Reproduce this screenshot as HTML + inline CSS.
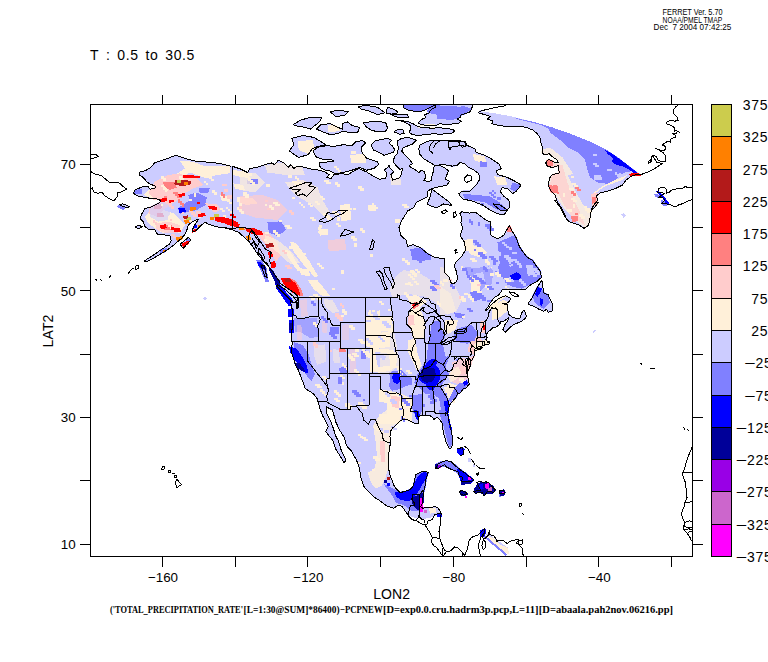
<!DOCTYPE html>
<html><head><meta charset="utf-8"><title>FERRET plot</title>
<style>html,body{margin:0;padding:0;background:#fff;overflow:hidden}svg{display:block}</style></head>
<body>
<svg width="768" height="662" viewBox="0 0 768 662">
<rect width="768" height="662" fill="#fff"/>
<defs><clipPath id="c"><rect x="91" y="105" width="601" height="451"/></clipPath></defs>
<g clip-path="url(#c)" shape-rendering="crispEdges">
<g stroke="none">
<polygon points="231.3,166.3 223.3,164.2 213.3,162.5 201.7,161.7 193.3,160.8 185.0,158.3 175.8,155.3 170.0,157.5 163.3,160.0 155.0,162.5 150.8,167.5 145.0,170.8 140.0,171.7 139.2,175.0 143.3,177.5 146.7,181.7 150.0,184.2 155.0,185.8 155.0,188.0 150.0,189.2 148.3,186.7 141.7,187.0 135.0,190.0 133.3,193.0 136.7,195.8 145.0,197.5 153.3,198.7 159.2,199.2 160.8,201.7 156.7,204.2 150.0,207.5 145.0,208.3 141.7,214.2 140.0,218.3 143.3,221.7 145.0,226.7 148.3,229.2 155.0,230.0 157.5,234.2 165.0,235.0 170.0,235.8 171.3,240.8 169.2,244.2 163.3,248.3 158.3,251.7 152.5,255.8 146.7,259.2 144.2,261.3 147.5,261.3 151.7,259.2 158.3,255.3 165.8,250.8 171.7,246.7 176.7,242.5 181.7,238.3 185.0,234.2 187.5,228.3 188.3,225.0 192.5,221.7 195.8,220.0 198.3,219.7 195.8,223.3 193.3,227.5 192.0,231.7 194.2,232.0 198.3,228.3 201.7,225.0 205.0,222.0 208.3,224.2 213.3,225.8 218.3,227.0 225.0,228.0 231.3,228.7 224.4,227.5 232.2,229.8 238.4,232.2 243.9,236.9 248.6,241.6 252.5,246.2 255.9,251.7 259.5,256.4 262.7,260.3 266.6,264.2 269.7,268.1 272.8,272.0 276.7,277.5 280.6,283.8 285.3,286.9 290.0,290.0 294.7,293.1 297.8,296.2 298.6,300.2 297.5,304.1 296.2,307.2 297.2,297.9 298.3,302.4 298.7,307.4 296.9,308.7 297.6,303.6 295.8,302.7 290.3,301.1 292.5,310.6 292.9,315.0 292.5,325.8 291.1,336.6 292.2,342.9 291.4,351.8 293.6,358.7 296.5,367.0 298.3,370.1 300.5,375.8 302.7,381.5 305.2,388.5 310.3,391.7 313.2,393.6 317.2,398.6 318.0,401.8 319.8,408.1 322.3,415.1 325.6,421.4 328.5,426.5 325.6,431.6 329.2,436.0 332.9,440.4 335.8,449.3 338.3,453.1 342.7,460.1 344.1,462.6 346.0,460.1 342.7,453.7 340.9,449.3 338.7,441.7 335.4,435.4 333.6,429.0 330.7,421.4 327.1,414.5 326.3,406.9 332.5,410.0 335.8,422.1 340.1,430.9 344.5,437.9 346.3,445.5 351.1,450.6 356.5,460.1 359.4,468.3 360.9,477.8 364.1,486.7 369.2,492.4 374.7,497.4 380.5,501.2 387.4,506.3 393.6,508.2 398.3,505.0 402.0,506.3 408.5,515.8 414.7,517.7 423.8,519.0 432.9,517.1 441.2,513.3 441.2,513.3 438.3,508.2 434.7,506.6 431.0,507.6 425.6,507.6 423.0,508.2 420.5,506.9 420.5,506.9 422.7,503.1 423.0,496.8 423.8,491.1 425.6,484.1 426.0,479.1 428.1,472.7 425.6,471.5 422.0,471.5 415.4,474.6 414.7,481.0 413.2,486.0 410.0,489.8 405.6,491.1 400.1,492.7 396.5,489.2 394.0,485.4 390.3,475.9 388.5,468.3 388.1,462.6 388.5,455.6 389.6,447.4 390.5,443.3 390.0,436.6 390.3,431.6 392.9,427.8 397.2,424.0 399.4,421.4 402.5,419.5 405.6,419.2 409.2,420.5 411.8,422.1 414.7,423.3 418.7,424.0 418.3,418.9 418.0,416.4 422.3,415.4 425.6,415.7 429.2,415.1 432.5,417.3 433.6,419.5 437.2,417.3 439.8,419.5 442.7,424.0 443.0,430.3 443.4,433.5 445.2,438.5 446.3,443.0 448.9,448.0 451.4,448.0 452.5,444.2 452.7,437.9 451.0,430.3 450.7,427.1 449.2,422.1 447.9,415.1 447.6,413.2 448.5,408.1 449.6,405.0 452.9,400.9 455.8,397.4 458.1,393.3 460.5,392.9 463.0,388.8 465.4,388.5 469.2,384.4 468.1,378.4 467.4,373.9 466.3,373.3 466.3,367.3 465.9,363.8 465.6,359.4 467.4,358.1 466.7,363.8 467.8,367.6 467.6,372.4 469.6,367.6 470.9,364.1 470.7,361.9 469.2,358.1 471.4,361.0 474.3,355.6 474.7,351.5 474.7,349.9 475.8,350.5 480.1,349.2 482.3,347.7 479.8,348.0 475.8,348.6 478.7,346.4 481.9,346.1 483.8,345.4 484.9,344.8 486.7,344.5 489.2,343.9 489.4,342.0 488.5,341.3 489.2,342.9 487.4,342.9 486.7,340.1 485.6,339.4 487.0,337.5 486.3,336.1 487.0,333.4 488.5,331.2 491.0,329.6 493.6,327.1 495.8,327.1 498.7,325.2 500.1,323.9 500.1,321.7 503.8,321.1 507.4,318.8 508.5,317.9 507.8,320.7 504.5,325.2 503.0,329.6 505.2,332.5 509.2,328.3 512.8,325.2 518.3,322.6 521.9,321.1 525.6,318.2 526.3,315.7 524.1,310.0 521.9,312.5 520.1,318.2 516.5,318.5 512.8,317.3 510.3,315.7 508.8,314.4 507.8,310.0 507.4,304.9 504.5,304.3 502.3,303.3 507.4,303.0 509.9,300.5 510.3,298.3 505.6,295.7 500.8,297.3 496.5,300.2 491.0,304.9 487.4,310.0 484.9,311.2 488.5,306.2 490.3,302.7 494.3,297.3 499.0,294.8 502.3,289.7 511.0,289.1 518.3,289.4 525.6,289.1 531.0,284.6 536.1,282.1 541.2,277.7 540.8,272.0 536.1,265.6 532.8,260.6 527.4,257.4 523.8,253.0 519.4,246.6 516.5,238.4 512.8,232.1 509.2,225.7 506.3,230.8 503.8,235.2 498.3,238.4 495.0,237.8 491.0,235.2 490.3,230.2 490.7,221.9 485.6,220.0 481.9,216.9 475.8,212.4 469.2,213.1 461.9,211.8 459.8,213.1 461.9,218.1 460.9,222.6 462.7,227.6 460.1,235.9 464.5,242.2 465.6,249.8 461.9,256.1 456.5,261.2 454.3,265.6 456.5,272.0 457.6,278.3 456.5,281.5 453.6,283.7 450.7,282.7 449.2,277.0 444.9,272.6 444.5,265.6 444.5,258.7 434.7,257.4 427.4,253.6 420.3,247.6 412.9,244.7 407.4,246.6 406.3,240.3 400.9,235.6 399.0,227.6 401.9,220.1 407.3,211.8 407.3,211.2 413.7,207.6 416.5,202.1 422.8,199.3 427.4,196.6 427.8,191.1 432.0,188.4 440.2,186.6 447.4,184.8 449.3,181.1 445.6,179.3 445.4,178.0 447.2,174.2 448.3,170.7 445.4,168.3 440.7,166.0 434.2,165.4 433.6,170.7 431.3,178.0 432.0,180.2 428.3,182.0 423.8,180.2 425.4,178.0 424.8,171.9 421.2,170.1 418.9,172.4 414.8,169.5 408.9,166.0 412.4,163.6 410.1,160.1 405.3,155.4 401.8,151.2 403.0,147.7 407.7,145.9 412.4,144.2 416.5,140.1 408.9,137.5 401.8,138.3 397.1,141.2 398.3,147.1 397.7,153.0 394.7,156.5 393.0,161.3 396.5,166.0 400.0,169.5 402.4,168.3 401.8,173.0 399.5,178.0 397.3,178.4 392.8,180.2 390.9,174.7 393.7,172.0 388.2,165.6 390.0,165.6 384.0,170.2 386.7,172.9 385.8,178.4 379.4,179.3 374.0,176.6 366.7,172.0 358.5,168.4 352.1,172.0 348.4,174.4 341.1,173.8 333.9,174.7 331.1,178.4 326.6,177.5 329.3,174.7 324.7,172.0 319.3,170.2 312.0,169.3 304.7,167.4 297.8,166.0 293.8,168.4 291.0,164.7 288.3,167.4 283.7,162.9 278.3,160.2 274.6,164.7 271.9,162.9 264.6,164.7 257.3,167.4 250.0,168.4 247.5,172.5 240.0,168.8 232.0,166.2" fill="#ccccff"/>
<polygon points="291.9,138.3 302.9,135.5 313.8,137.4 322.9,142.8 325.7,144.7 317.4,146.5 312.0,149.2 308.3,154.7 298.3,157.4 294.7,154.7 289.2,151.0 293.8,144.7" fill="#ccccff"/>
<polygon points="312.9,151.0 317.4,147.4 326.6,145.6 333.9,146.5 343.0,144.7 352.1,145.6 355.7,141.9 362.1,140.5 365.8,142.8 361.2,147.4 362.1,152.9 366.7,158.3 377.6,162.0 378.5,164.7 374.0,168.4 366.7,170.2 359.4,167.4 352.1,170.2 344.8,172.0 335.7,173.8 330.2,171.1 325.7,170.2 320.2,167.4 319.3,162.9 326.6,162.0 333.9,161.1 330.2,159.2 322.9,159.2 316.5,157.4" fill="#ccccff"/>
<polygon points="292.8,124.6 301.0,120.1 310.2,117.3 322.0,117.3 319.3,121.9 313.8,126.4 310.2,129.2 304.7,127.3 298.3,126.4" fill="#ccccff"/>
<polygon points="330.2,111.8 339.3,110.0 348.4,111.8 344.8,115.5 335.7,116.4" fill="#ccccff"/>
<polygon points="316.5,129.2 321.1,124.6 330.2,123.7 337.5,127.3 343.0,129.2 342.1,123.7 347.5,121.9 352.1,125.5 359.4,127.3 358.5,131.9 350.3,132.8 343.0,131.0 337.5,133.7 330.2,134.6 322.9,131.9" fill="#ccccff"/>
<polygon points="363.0,122.8 370.3,121.9 377.6,121.0 385.8,122.8 387.6,128.3 384.9,131.9 377.6,131.9 371.2,130.1 366.7,127.3" fill="#ccccff"/>
<polygon points="357.6,106.4 366.7,105.5 377.6,107.3 384.9,112.8 377.6,114.6 368.5,110.9 361.2,109.1" fill="#ccccff"/>
<polygon points="432.0,189.3 434.7,191.1 442.0,196.6 449.3,202.1 452.0,205.7 443.8,203.9 436.5,207.6 432.0,206.6 427.4,203.9 430.1,196.6" fill="#ccccff"/>
<polygon points="418.8,148.8 420.0,145.0 427.5,141.2 440.0,140.0 452.5,140.5 463.8,141.2 466.2,145.0 475.0,148.8 476.2,152.5 483.8,155.0 491.2,158.8 498.8,163.8 501.2,168.8 496.2,170.5 497.5,174.5 507.5,177.5 515.0,181.2 521.2,185.0 516.2,191.2 512.5,193.8 507.5,188.8 502.5,187.5 500.0,191.2 503.8,196.2 508.8,200.0 510.0,206.2 507.5,210.0 503.8,215.0 497.5,213.8 490.0,210.0 482.5,205.0 472.5,201.2 462.5,198.8 460.0,196.2 458.8,193.8 462.5,191.2 470.0,191.2 476.2,185.0 480.0,178.8 478.8,173.8 473.8,170.0 468.8,167.5 465.0,163.8 460.0,162.5 457.5,165.0 452.5,166.2 443.8,164.5 435.0,165.5 430.0,162.5 423.8,158.8 419.5,153.8" fill="#ccccff"/>
<polygon points="541.9,280.2 542.8,286.6 543.8,293.0 548.3,294.8 550.1,299.3 552.9,304.8 552.0,311.2 548.3,312.1 546.5,309.4 543.8,311.2 539.2,309.4 534.6,306.6 529.2,304.8 528.3,303.0 531.9,298.4 534.6,293.0 538.3,285.7" fill="#ccccff"/>
<polygon points="180.0,244.2 188.3,237.5 190.8,240.0 183.3,248.3" fill="#ccccff"/>
<polygon points="134.7,227.0 138.3,225.3 142.5,226.7 139.2,228.7" fill="#ccccff"/>
<polygon points="119.3,204.5 123.0,203.9 129.9,206.6 127.3,207.6 122.5,206.1" fill="#ccccff"/>
<polygon points="387.1,107.7 391.8,108.2 397.7,111.8 397.1,113.0 391.2,114.1 386.5,113.5" fill="#ccccff"/>
<polygon points="391.2,114.7 399.5,114.1 407.7,114.7 408.3,117.1 403.0,117.7 397.1,117.1" fill="#ccccff"/>
<polygon points="394.1,131.8 397.7,129.5 403.0,130.0 404.2,133.6 399.5,134.2" fill="#ccccff"/>
<polygon points="371.2,144.8 375.3,140.6 381.8,139.5 387.7,138.3 391.8,140.6 388.8,143.0 392.4,145.9 394.7,149.5 393.6,152.4 388.8,153.6 384.1,155.4 379.4,152.4 373.5,150.1" fill="#ccccff"/>
<polygon points="394.7,120.0 399.5,120.6 405.3,122.4 410.1,125.3 410.6,128.3 409.5,132.4 412.4,134.8 419.5,135.3 428.9,134.2 436.0,133.6 438.3,134.8 445.4,133.6 452.5,133.0 454.8,130.6 452.5,129.5 445.4,128.3 438.3,127.7 432.4,128.3 426.5,127.7 421.8,127.7 417.1,125.9 413.6,124.1 408.9,121.8 404.2,121.2 399.5,120.0" fill="#ccccff"/>
<polygon points="418.3,123.0 421.8,119.4 425.4,117.7 424.8,114.7 428.9,113.0 431.3,109.4 435.4,107.1 436.0,104.7 473.0,104.7 471.8,108.2 470.0,111.8 465.3,113.5 461.2,114.7 460.0,117.7 457.1,118.8 461.2,121.2 458.8,123.0 451.8,124.1 444.7,124.7 440.0,123.6 436.0,125.3 426.5,125.3 420.7,124.7" fill="#ccccff"/>
<polygon points="448.2,141.8 450.6,141.2 464.7,141.2 466.5,143.8 465.3,146.5 461.2,145.4 455.3,146.5 451.2,147.1 450.0,150.1 448.2,145.4" fill="#ccccff"/>
<polygon points="403.0,104.7 403.6,107.7 407.7,110.0 417.1,111.8 421.8,111.2 427.7,108.8 433.6,105.9 436.0,104.7" fill="#8080ff"/>
<polygon points="428.9,107.1 436.0,105.3 457.2,106.5 466.6,107.1 472.5,108.8 464.2,114.1 456.0,116.5 447.7,115.9 440.7,114.1 431.3,113.5 426.5,111.8" fill="#8080ff"/>
<polygon points="506.5,105.5 491.9,108.2 480.9,110.9 478.2,112.8 484.6,114.6 490.1,116.4 487.3,119.1 492.8,121.0 491.9,123.7 499.2,125.5 506.5,126.4 519.2,126.4 526.5,127.3 532.9,130.1 537.4,133.7 540.2,138.3 541.1,143.8 542.9,148.3 542.0,152.0 543.8,154.7 549.3,153.8 552.0,156.5 557.5,160.2 558.4,162.9 553.9,162.0 548.4,159.2 545.7,162.9 547.5,166.5 552.9,167.4 558.4,165.6 559.3,172.9 552.0,174.7 549.3,178.4 548.4,185.7 551.1,191.1 554.8,194.8 557.5,202.1 561.1,207.6 564.8,214.8 566.6,219.9 560.2,207.3 564.7,216.4 569.3,221.9 578.4,224.6 583.9,228.3 588.4,225.5 590.2,217.3 591.1,210.9 594.8,207.3 598.4,201.8 593.8,205.0 598.0,200.0 596.2,196.2 600.0,193.0 607.5,191.2 615.0,188.8 622.5,185.0 626.2,180.0 631.2,176.2 636.2,174.5 641.2,174.5 641.2,174.5 631.2,167.5 620.0,158.8 605.0,148.8 588.5,141.0 570.3,133.7 552.0,127.3 533.8,121.9 515.6,117.3 497.3,113.7 478.2,110.9" fill="#ccccff"/>
<polygon points="511.9,117.3 533.8,121.9 552.0,127.3 570.3,133.7 588.5,141.0 605.0,148.8 620.0,158.8 631.2,167.5 640.0,174.5 636.2,174.5 631.2,171.2 625.0,172.5 620.0,175.0 615.0,180.0 607.5,183.8 597.5,182.5 590.0,177.5 587.5,170.0 585.0,160.0 577.5,152.5 567.5,147.5 560.0,140.0 550.0,132.5 548.4,128.3 539.3,124.6 524.7,121.0" fill="#8080ff"/>
<polygon points="605.0,150.0 612.5,153.8 622.5,161.2 632.5,168.8 640.0,174.5 636.2,174.5 627.5,168.8 622.5,166.2 616.2,165.0 611.2,161.2 613.8,158.8 607.5,153.8" fill="#0000ff"/>
<polygon points="628.8,174.0 635.0,172.5 641.2,174.2 640.0,176.5 630.0,176.0" fill="#ff0000"/>
<polygon points="185.0,168.3 175.0,175.0 163.3,181.7 155.0,185.8 154.2,186.4 154.2,186.4 154.2,187.4 152.1,187.9 146.7,191.7 143.3,195.0 151.7,198.3 158.3,193.3 168.3,186.7 180.0,178.3 190.0,172.5 196.7,175.0 206.7,178.3 216.7,175.0 230.0,173.3 230.0,165.8 203.3,165.8 193.3,161.7 180.0,160.8" fill="#fff0d9"/>
<polygon points="152.3,185.8 154.2,186.4 154.2,187.4 150.9,188.1 148.3,193.3 153.3,198.3 152.8,199.4 153.2,199.5 153.3,199.5 158.7,199.9 159.7,201.4 156.3,203.5 149.7,206.7 149.7,206.7 148.3,213.3 156.7,216.7 163.3,210.0 170.0,205.0 178.3,200.0 185.0,193.3 193.3,188.3 203.3,185.0 196.7,178.3 186.7,176.7 180.0,173.3 168.3,175.0 155.0,181.7" fill="#ffcccc"/>
<polygon points="145.0,216.7 148.3,223.3 155.0,228.3 163.3,233.3 171.7,230.0 180.0,233.3 185.0,225.0 180.0,220.0 173.3,213.3 163.3,210.0 156.7,216.7 148.3,213.3" fill="#fff0d9"/>
<polygon points="190.0,200.0 185.0,203.3 177.5,208.3 180.0,213.7 188.3,212.0 196.7,210.0 205.8,205.0 206.7,197.5 196.7,192.5 188.3,195.0" fill="#8080ff"/>
<polygon points="200.0,193.3 208.3,193.0 210.0,187.5 198.3,187.5" fill="#8080ff"/>
<polygon points="179.2,213.3 185.8,211.7 185.0,207.5 178.3,208.3" fill="#0000ff"/>
<polygon points="208.3,207.5 213.3,211.7 220.8,210.0 216.7,204.2 205.0,203.3" fill="#ffcccc"/>
<polygon points="221.7,200.8 230.0,201.7 230.0,196.7 220.0,195.0" fill="#fff0d9"/>
<polygon points="183.3,177.5 200.0,177.8 200.0,175.8 183.3,175.0" fill="#ff0000"/>
<polygon points="174.2,184.2 180.0,185.8 190.0,185.3 191.7,181.7 185.0,179.7 175.0,180.3" fill="#b31a1a"/>
<polygon points="184.2,184.7 188.3,184.7 188.3,182.0 184.2,182.5" fill="#ff8000"/>
<polygon points="176.7,182.5 180.8,182.5 180.8,180.0 176.7,180.3" fill="#cccc4d"/>
<polygon points="160.3,202.0 167.0,201.3 166.7,198.0 160.0,198.7" fill="#ff0000"/>
<polygon points="178.7,196.7 185.0,196.3 185.0,193.3 178.3,193.7" fill="#ff0000"/>
<polygon points="169.0,202.7 173.7,202.3 173.7,199.7 168.7,200.0" fill="#ff0000"/>
<polygon points="164.2,187.5 170.0,190.0 176.7,187.5 175.0,181.7 163.3,182.5" fill="#ff8080"/>
<polygon points="198.3,217.5 205.8,215.8 205.0,212.5 197.5,214.2" fill="#ff0000"/>
<polygon points="209.2,209.2 217.5,210.0 216.7,206.7 208.3,205.8" fill="#ff0000"/>
<polygon points="190.3,210.8 196.3,210.0 195.8,206.7 190.0,207.5" fill="#ff8000"/>
<polygon points="186.3,220.8 191.3,220.0 190.8,216.7 185.8,217.5" fill="#cccc4d"/>
<polygon points="184.7,223.7 189.7,223.3 189.2,219.7 184.2,220.0" fill="#ff8000"/>
<polygon points="183.7,219.2 188.0,218.3 187.5,215.3 183.3,216.3" fill="#b31a1a"/>
<polygon points="160.8,229.2 166.7,228.3 165.8,224.2 160.0,225.0" fill="#ff0000"/>
<polygon points="174.2,232.5 180.8,231.7 180.0,227.5 173.3,228.3" fill="#ff0000"/>
<polygon points="156.7,230.0 166.7,233.3 178.3,233.3 180.0,225.0 170.0,221.7 155.0,223.3" fill="#ffcccc" fill-opacity="0.8"/>
<polygon points="164.2,230.3 172.5,230.0 171.7,224.7 163.3,225.0" fill="#ff8080"/>
<polygon points="154.2,209.2 162.5,208.3 161.7,204.2 153.3,205.0" fill="#ff8080"/>
<polygon points="157.0,217.0 163.7,216.7 163.3,213.0 156.7,213.3" fill="#ff8080"/>
<polygon points="150.0,216.7 158.3,221.7 168.3,220.0 171.7,206.7 163.3,201.7 159.6,201.2 159.7,201.4 156.3,203.5 150.0,206.6" fill="#ccccff" fill-opacity="0.6"/>
<polygon points="214.2,217.5 219.2,217.5 219.2,214.2 214.2,214.2" fill="#cccc4d"/>
<polygon points="209.7,220.0 214.2,220.0 214.2,216.7 209.7,216.7" fill="#ff8000"/>
<polygon points="220.8,223.3 226.7,223.3 236.7,225.0 238.3,222.5 231.7,219.2 225.0,217.5 220.0,220.8" fill="#ff0000"/>
<polygon points="192.5,232.5 195.6,231.8 198.9,228.9 198.9,228.9 199.5,228.3 191.7,230.0 191.7,230.0" fill="#ff0000"/>
<polygon points="197.5,228.3 199.6,228.2 202.2,225.6 202.8,225.0 197.5,225.3" fill="#ff8000"/>
<polygon points="193.0,227.5 196.7,227.5 196.7,224.7 194.0,224.9 193.0,226.5" fill="#0000ff"/>
<polygon points="176.7,240.8 181.3,239.7 182.2,238.9 182.2,238.9 182.3,238.8 183.0,237.9 182.5,235.8 175.8,237.5" fill="#ff8000"/>
<polygon points="183.0,247.0 187.2,245.2 189.2,243.0 188.3,240.8 181.7,243.3" fill="#ff0000"/>
<polygon points="186.3,242.0 190.3,241.7 190.0,238.3 185.8,239.2" fill="#8080ff"/>
<polygon points="134.2,194.7 142.5,193.7 141.7,189.2 134.1,189.9 133.5,191.0" fill="#8080ff"/>
<polygon points="160.3,253.3 164.0,252.9 166.2,251.5 166.3,251.5 166.9,251.1 166.7,248.3 160.8,249.1 160.0,249.6" fill="#8080ff"/>
<polygon points="162.5,252.3 165.4,252.0 165.8,251.8 165.8,249.7 162.5,250.0" fill="#ff8000"/>
<polygon points="247.0,184.2 255.3,183.3 255.0,179.2 246.7,180.0" fill="#8080ff"/>
<polygon points="233.3,175.0 240.0,176.7 250.0,178.3 246.7,171.7 233.3,170.0" fill="#fff0d9"/>
<polygon points="236.7,201.7 246.7,205.0 258.0,203.3 253.3,198.3 236.7,196.7" fill="#fff0d9"/>
<polygon points="235.0,189.2 245.0,190.0 243.3,185.0 233.3,183.3" fill="#fff0d9"/>
<polygon points="427.3,351.4 426.5,359.3 421.8,367.1 417.1,375.0 414.0,382.8 418.7,387.5 425.0,393.8 432.8,393.8 439.1,398.5 440.7,408.0 443.8,420.5 448.5,423.7 449.5,419.0 448.7,415.0 448.7,414.9 448.4,413.2 449.3,408.3 449.5,407.8 448.5,401.7 443.8,393.8 440.7,386.0 445.4,379.7 448.5,373.4 445.4,367.1 448.5,359.3 451.7,351.4 450.1,343.6 428.1,344.3" fill="#8080ff"/>
<polygon points="419.5,375.0 418.7,379.7 421.8,382.8 425.8,384.4 428.1,389.1 432.8,390.7 436.0,386.0 439.1,381.3 440.7,375.0 439.1,368.7 436.0,365.5 437.5,360.1 432.8,358.5 428.1,360.8 425.0,365.5 421.8,371.8" fill="#0000ff"/>
<polygon points="420.3,375.0 421.8,380.5 426.5,382.8 432.8,381.3 436.0,375.0 434.4,368.7 428.1,367.1 421.8,368.7" fill="#000099"/>
<polygon points="390.4,379.7 388.8,386.0 392.0,390.7 399.8,389.1 406.1,386.0 412.4,384.4 412.4,378.1 406.1,375.0 401.4,370.3 388.8,371.8" fill="#8080ff"/>
<polygon points="392.0,377.3 393.6,382.0 397.5,384.4 400.6,381.3 399.8,374.2 393.6,374.2" fill="#0000ff"/>
<polygon points="445.4,411.1 448.1,415.0 448.4,413.3 448.4,413.2 449.3,408.3 449.5,407.8 448.5,400.1 443.8,401.7" fill="#0000ff"/>
<polygon points="414.8,415.8 417.1,420.5 419.1,418.6 418.9,417.0 420.1,416.7 418.7,411.1 414.0,409.5" fill="#0000ff"/>
<polygon points="411.6,406.4 414.0,414.2 420.3,414.2 423.4,408.0 421.8,393.8 412.4,395.4" fill="#8080ff"/>
<polygon points="453.2,367.1 448.5,375.0 453.2,382.8 460.3,384.4 468.2,378.1 468.6,376.2 468.2,373.8 468.2,373.7 468.1,373.7 468.1,373.6 468.1,373.5 468.0,373.4 468.0,373.4 467.9,373.3 467.9,373.3 467.8,373.2 467.6,373.1 467.6,373.1 467.7,373.1 467.8,373.1 467.9,373.1 467.9,373.1 468.0,373.0 468.1,373.0 468.1,372.9 468.2,372.9 468.2,372.8 468.3,372.7 468.3,372.7 470.3,367.9 470.3,367.9 470.4,367.7 470.5,367.1 464.2,357.7 451.7,362.4" fill="#ffcccc" fill-opacity="0.8"/>
<polygon points="445.4,390.7 448.5,398.5 454.8,393.8 458.0,386.0 448.5,382.8" fill="#fff0d9"/>
<polygon points="370.0,334.1 393.6,332.6 393.6,320.0 370.0,320.0" fill="#fff0d9"/>
<polygon points="412.4,335.7 414.0,349.8 415.5,337.3 425.0,329.4 423.4,320.0 407.7,320.0" fill="#fff0d9"/>
<polygon points="370.0,371.8 379.4,372.6 388.8,371.0 395.9,367.1 397.5,356.9 393.6,349.8 370.0,348.3" fill="#fff0d9"/>
<polygon points="377.9,367.1 390.4,365.5 388.8,353.8 374.7,351.4" fill="#ccccff"/>
<polygon points="379.4,423.7 398.5,423.7 399.9,422.0 402.8,420.3 405.5,420.0 408.9,421.2 411.4,422.7 411.5,422.8 412.4,423.2 411.6,398.5 401.4,393.8 392.0,391.5 379.4,389.1" fill="#fff0d9"/>
<polygon points="392.0,407.2 399.1,408.0 399.8,397.0 390.4,395.4" fill="#ffcccc"/>
<polygon points="379.4,414.2 387.3,414.2 387.3,403.2 379.4,401.7" fill="#ccccff"/>
<polygon points="407.7,351.4 414.0,364.0 417.1,371.8 421.8,365.5 417.1,351.4 415.5,338.8 406.1,340.4" fill="#fff0d9"/>
<polygon points="430.5,335.7 432.8,343.6 442.3,343.6 445.4,335.7 440.7,327.9 432.8,329.4" fill="#8080ff"/>
<polygon points="443.8,329.4 448.5,334.1 455.6,329.4 458.0,320.0 445.4,320.0" fill="#fff0d9"/>
<polygon points="453.2,337.3 458.0,342.0 470.5,340.4 472.1,334.1 464.2,329.4 454.8,331.0" fill="#8080ff"/>
<polygon points="467.4,351.4 473.7,354.6 475.3,352.9 475.5,351.5 475.5,351.5 475.5,351.2 475.5,351.3 475.6,351.3 475.7,351.3 475.7,351.3 475.8,351.3 475.9,351.3 476.0,351.3 477.3,350.9 481.2,347.0 479.7,347.2 479.6,347.2 478.8,347.3 479.0,347.2 481.3,346.9 483.1,345.1 479.9,335.7 470.5,340.4" fill="#ffcccc"/>
<polygon points="287.6,309.1 293.6,309.1 293.9,316.4 288.5,316.9" fill="#0000ff"/>
<polygon points="288.5,320.1 293.6,320.1 293.9,332.6 289.2,333.1" fill="#0000ff"/>
<polygon points="288.5,323.2 292.0,323.2 292.0,330.3 288.8,330.3" fill="#000099"/>
<polygon points="295.1,331.8 301.4,332.6 310.8,338.4 317.9,336.5 317.1,317.7 293.6,317.7" fill="#8080ff" fill-opacity="0.55"/>
<polygon points="295.1,355.4 301.4,368.0 306.9,375.8 311.6,381.3 314.8,374.2 311.6,364.8 308.5,353.8 303.0,345.2 293.6,342.0" fill="#8080ff"/>
<polygon points="288.8,346.0 296.7,348.8 301.4,355.4 306.4,364.8 308.5,373.5 303.3,371.9 298.3,364.8 293.6,358.5 290.4,352.3" fill="#0000ff"/>
<polygon points="293.6,363.2 299.1,362.9 303.8,368.0 305.3,371.9 301.4,370.8 296.7,367.2" fill="#000099"/>
<polygon points="330.0,334.2 339.4,333.7 339.1,326.8 329.7,327.1" fill="#8080ff"/>
<polygon points="366.1,346.0 374.5,349.1 390.0,346.8 390.0,316.4 366.1,316.4" fill="#fff0d9"/>
<polygon points="378.4,316.4 390.0,316.4 390.0,305.9 376.8,311.4" fill="#fff0d9"/>
<polygon points="380.7,332.6 388.1,331.8 387.8,320.1 379.9,320.8" fill="#ccccff"/>
<polygon points="339.1,351.9 345.7,352.3 345.4,347.9 338.8,347.5" fill="#ff8080"/>
<polygon points="342.3,340.5 349.3,339.7 348.5,324.0 341.5,324.8" fill="#ffcccc" fill-opacity="0.4"/>
<polygon points="361.1,358.8 366.1,358.5 365.8,350.4 360.8,350.7" fill="#8080ff"/>
<polygon points="339.9,373.5 347.3,372.7 347.0,365.6 339.1,368.0" fill="#8080ff"/>
<polygon points="337.9,383.7 342.6,383.7 342.3,377.1 337.5,377.4" fill="#8080ff"/>
<polygon points="301.4,316.9 307.7,316.1 306.9,298.8 299.8,300.4" fill="#ffcccc" fill-opacity="0.5"/>
<polygon points="297.5,339.7 302.2,339.7 301.4,325.2 296.7,325.5" fill="#ffcccc" fill-opacity="0.5"/>
<polygon points="325.0,306.7 332.8,313.0 339.1,311.4 332.8,300.4 323.4,298.8" fill="#fff0d9" fill-opacity="0.6"/>
<polygon points="322.6,333.4 327.3,333.4 326.5,320.5 321.8,320.8" fill="#ffcccc" fill-opacity="0.5"/>
<polygon points="314.0,355.4 317.1,364.8 326.5,361.7 325.0,344.4 314.0,346.0" fill="#fff0d9" fill-opacity="0.5"/>
<polygon points="333.6,362.5 339.9,363.2 339.1,349.9 332.8,349.1" fill="#fff0d9" fill-opacity="0.5"/>
<polygon points="350.4,373.0 356.1,372.7 355.6,348.8 350.1,349.1" fill="#ffcccc" fill-opacity="0.5"/>
<polygon points="314.0,289.4 321.8,295.7 329.7,295.7 325.0,289.4 317.1,280.0 307.7,280.0" fill="#fff0d9"/>
<polygon points="287.3,287.9 290.7,291.4 294.2,293.7 295.2,294.8 300.2,295.7 296.7,287.9 290.4,280.0 282.6,280.0" fill="#ff0000"/>
<polygon points="296.7,287.9 300.2,295.7 303.8,296.5 301.4,289.4 295.1,280.0 290.4,280.0" fill="#ff8080"/>
<polygon points="274.4,280.0 279.7,280.0 281.0,289.4 276.3,288.6" fill="#000099"/>
<polygon points="276.3,288.6 281.8,289.4 288.8,298.8 292.0,306.7 288.5,305.9 282.6,297.3" fill="#0000ff"/>
<polygon points="261.9,240.0 269.7,249.4 275.9,261.9 280.6,255.6 277.5,243.1 268.1,232.2 254.1,230.6" fill="#ffcccc"/>
<polygon points="215.0,221.2 221.2,222.0 230.6,225.9 238.4,227.5 240.0,224.4 233.8,221.2 224.4,217.3 215.0,216.6" fill="#ff0000"/>
<polygon points="247.8,232.2 255.6,235.3 263.4,234.5 261.9,231.4 252.5,227.5 244.7,228.3" fill="#ff0000"/>
<polygon points="239.2,230.3 244.7,229.8 243.9,226.7 238.4,227.2" fill="#ff8000"/>
<polygon points="247.0,240.8 251.2,240.0 250.2,235.3 246.2,236.1" fill="#ff8000"/>
<polygon points="266.6,247.8 274.4,247.0 272.8,243.1 265.0,243.9" fill="#b31a1a"/>
<polygon points="268.9,258.0 273.1,257.2 272.0,251.7 268.1,252.5" fill="#ff0000"/>
<polygon points="271.2,268.1 276.2,267.3 275.2,261.1 270.5,261.9" fill="#ff0000"/>
<polygon points="283.8,284.5 290.0,288.4 296.2,295.5 300.2,293.1 296.2,283.8 288.4,277.5 280.6,278.3" fill="#ff0000"/>
<polygon points="286.1,282.5 291.6,281.9 289.2,278.3 283.8,278.8" fill="#b31a1a"/>
<polygon points="296.2,283.8 300.2,293.1 301.7,296.2 300.9,288.4 293.1,279.1 288.4,277.5" fill="#ff8080"/>
<polygon points="255.6,259.5 261.9,260.3 266.6,268.1 268.9,282.2 265.8,282.2 260.3,269.7" fill="#8080ff"/>
<polygon points="256.9,261.9 261.9,262.7 265.8,268.9 262.7,269.7 258.8,266.6" fill="#0000ff"/>
<polygon points="259.5,264.2 265.0,264.7 265.8,268.1 261.1,268.1" fill="#000099"/>
<polygon points="268.9,266.6 273.6,271.2 277.5,279.1 280.6,285.3 277.5,286.1 272.8,277.5 269.7,272.0" fill="#000099"/>
<polygon points="275.2,283.8 280.6,285.3 286.9,293.1 291.6,302.5 288.4,302.5 282.2,294.7 276.7,288.4" fill="#0000ff"/>
<polygon points="268.9,226.7 274.4,230.6 282.2,233.0 285.3,229.1 277.5,223.6 268.1,222.8" fill="#8080ff"/>
<polygon points="293.1,250.9 302.5,263.4 315.0,277.5 318.1,275.9 308.8,260.3 296.2,243.1 290.0,241.6" fill="#fff0d9"/>
<polygon points="318.9,234.5 328.3,233.8 327.5,229.8 318.1,230.6" fill="#fff0d9"/>
<polygon points="300.9,275.2 310.3,275.9 308.8,269.7 299.4,268.1" fill="#fff0d9"/>
<polygon points="290.0,260.3 297.8,271.2 302.5,271.2 296.2,261.9 290.0,250.9 283.8,249.4" fill="#fff0d9"/>
<polygon points="502.8,258.8 498.1,266.7 499.7,276.1 506.0,284.0 513.8,287.1 521.7,288.7 528.0,285.5 534.2,282.4 540.5,279.3 541.3,271.4 541.1,270.9 536.8,265.2 533.5,260.1 533.5,260.1 533.4,260.0 533.4,260.0 533.3,259.9 533.2,259.9 527.9,256.8 525.9,254.3 525.6,254.1 525.4,253.7 524.4,252.5 520.1,246.3 518.0,240.2 510.7,243.1 499.7,249.4" fill="#8080ff"/>
<polygon points="505.2,263.6 510.7,266.7 517.0,260.4 513.8,254.1 506.0,255.7" fill="#ccccff"/>
<polygon points="528.0,276.1 534.2,274.6 532.7,265.1 525.6,263.6" fill="#ccccff"/>
<polygon points="511.5,279.3 518.5,280.1 521.7,276.1 517.0,272.2 509.9,275.3" fill="#0000ff"/>
<polygon points="468.3,276.1 473.0,287.1 471.4,296.5 479.3,293.4 484.0,287.1 491.8,284.0 493.4,271.4 487.1,265.1 477.7,268.3 465.1,266.7" fill="#8080ff" fill-opacity="0.5"/>
<polygon points="476.1,284.0 484.8,280.8 483.2,272.2 473.8,273.8" fill="#ccccff"/>
<polygon points="440.0,315.4 455.7,312.3 462.0,299.7 455.7,287.1 449.4,280.8 447.8,274.5 445.6,272.3 445.4,268.1 440.0,266.7" fill="#fff0d9" fill-opacity="0.6"/>
<polygon points="469.8,254.1 479.3,257.3 487.1,252.6 480.8,246.3 466.7,244.7" fill="#fff0d9"/>
<polygon points="471.4,291.8 479.3,290.3 480.8,279.3 469.8,276.1" fill="#fff0d9"/>
<polygon points="534.2,301.3 539.0,306.0 543.7,309.1 549.9,302.8 548.4,295.0 546.4,293.2 544.5,292.4 544.3,291.2 538.2,285.5 537.4,285.7 533.9,292.6 532.3,295.9" fill="#8080ff"/>
<polygon points="535.0,295.0 537.7,296.9 542.1,288.7 537.4,287.1" fill="#0000ff"/>
<polygon points="539.7,304.4 542.1,306.0 543.7,299.7 540.5,298.1" fill="#0000ff"/>
<polygon points="491.8,320.1 498.1,318.5 506.8,311.5 508.4,307.1 508.2,304.8 508.2,304.8 508.2,304.7 508.1,304.6 508.1,304.5 508.1,304.5 508.0,304.4 508.0,304.3 507.9,304.3 507.9,304.2 507.8,304.2 507.7,304.2 507.6,304.1 507.6,304.1 506.4,303.9 507.4,303.8 507.5,303.8 507.6,303.8 507.7,303.7 507.8,303.7 507.8,303.7 507.9,303.6 508.0,303.6 509.1,302.5 502.8,299.7 491.8,307.5" fill="#fff0d9"/>
<polygon points="491.8,309.1 501.3,299.7 507.6,295.9 506.0,295.0 505.9,295.0 505.8,294.9 505.7,294.9 505.6,294.9 505.6,294.9 505.5,294.9 505.4,294.9 505.3,295.0 500.6,296.5 500.5,296.6 500.5,296.6 500.4,296.6 498.1,298.2 493.4,302.8 487.1,309.1" fill="#fff0d9"/>
<polygon points="460.4,340.5 474.6,340.5 477.7,332.7 471.4,324.8 458.8,328.0" fill="#8080ff"/>
<polygon points="480.8,331.9 484.8,331.1 484.0,320.9 480.1,321.7" fill="#ffcccc"/>
<polygon points="483.2,329.2 485.2,328.7 485.5,325.6 483.2,326.1" fill="#ff0000"/>
<polygon points="395.7,276.3 389.4,288.8 392.6,298.3 406.7,293.6 416.1,295.1 425.5,296.7 433.4,301.4 439.7,306.1 447.5,314.8 456.2,310.8 450.7,293.6 435.0,282.6 419.3,273.1 403.6,270.0" fill="#fff0d9" fill-opacity="0.55"/>
<polygon points="406.7,296.7 411.4,306.1 408.3,317.1 411.4,328.1 414.9,337.5 424.3,337.5 425.5,325.0 422.4,314.0 419.3,307.7 427.1,301.4 416.1,295.1 392.6,298.3" fill="#fff0d9"/>
<polygon points="380.0,373.7 389.4,373.7 400.4,364.2 397.3,348.5 394.1,331.3 380.0,329.7" fill="#fff0d9" fill-opacity="0.6"/>
<polygon points="380.0,316.3 392.6,315.5 391.8,298.3 380.0,298.3" fill="#ccccff"/>
<polygon points="380.0,330.5 393.4,332.0 392.6,316.3 380.0,317.1" fill="#fff0d9"/>
<polygon points="398.8,350.1 408.3,348.5 406.7,332.0 395.7,332.8" fill="#ccccff"/>
<polygon points="408.3,325.8 414.6,325.0 413.8,314.8 407.5,315.5" fill="#ffcccc"/>
<polygon points="413.8,309.3 419.3,305.3 416.9,301.4 411.4,303.8" fill="#ff8080"/>
<polygon points="413.3,307.7 416.4,305.3 415.3,303.3 412.2,305.3" fill="#ff0000"/>
<polygon points="430.3,332.8 427.9,343.8 431.8,358.0 438.1,359.5 444.4,358.0 446.0,343.8 440.5,342.3 441.3,332.8 439.7,320.3 431.8,321.8" fill="#8080ff"/>
<polygon points="458.5,342.3 468.0,343.8 474.2,339.1 471.1,332.0 457.0,332.8" fill="#8080ff"/>
<polygon points="474.2,301.4 483.7,298.3 480.5,290.4 469.5,292.0" fill="#8080ff"/>
<polygon points="455.4,317.1 463.2,318.7 464.8,314.0 453.8,312.4" fill="#8080ff"/>
<polygon points="474.2,351.7 475.5,351.7 475.5,351.5 475.5,351.5 475.5,351.2 475.5,351.3 475.6,351.3 475.7,351.3 475.7,351.3 475.8,351.3 475.9,351.3 476.0,351.3 480.3,350.0 480.4,350.0 480.5,350.0 480.5,349.9 480.6,349.9 482.8,348.3 482.8,348.2 482.9,348.2 482.9,348.1 483.0,348.1 483.0,348.0 483.1,347.9 483.1,347.9 483.1,347.8 483.1,347.7 483.1,347.6 483.1,347.5 483.1,347.5 483.1,347.4 483.0,347.3 483.0,347.3 483.0,347.2 482.9,347.1 482.9,347.1 482.8,347.0 482.7,347.0 482.7,346.9 482.6,346.9 482.5,346.9 482.4,346.9 482.4,346.9 482.3,346.9 482.2,346.9 479.7,347.2 479.6,347.2 478.8,347.3 479.0,347.2 482.0,346.9 482.1,346.8 482.2,346.8 484.0,346.2 484.1,346.2 484.2,346.1 485.1,345.6 486.8,345.3 486.9,345.3 488.8,344.8 489.9,343.8 487.9,340.8 487.9,340.8 487.8,340.8 487.8,340.9 487.8,341.0 487.7,341.0 487.5,340.2 486.9,339.3 486.8,339.2 486.8,339.1 486.8,339.1 474.2,343.8" fill="#fff0d9"/>
<polygon points="455.4,373.7 464.8,373.7 469.1,370.8 470.3,367.9 470.3,367.9 471.6,364.4 471.6,364.3 471.6,364.2 471.7,364.1 471.7,364.1 471.5,361.8 471.5,361.8 471.5,361.7 471.5,361.7 471.5,361.7 471.6,361.7 471.7,361.7 471.8,361.7 471.8,361.6 471.9,361.6 472.0,361.5 472.0,361.5 472.1,361.4 472.1,361.3 475.0,355.9 475.0,355.9 475.1,355.8 475.1,355.7 475.1,355.6 475.1,355.6 468.0,358.0" fill="#ffcccc"/>
<polygon points="482.9,330.0 484.6,329.7 484.9,325.0 482.9,325.8" fill="#ff0000"/>
<polygon points="480.8,333.1 485.5,332.8 486.0,322.6 480.5,323.4" fill="#ffcccc"/>
<polygon points="373.2,425.7 375.5,441.4 377.1,457.1 374.0,469.7 367.7,472.8 370.8,482.3 375.5,488.5 381.8,485.4 385.0,479.1 388.1,469.7 388.1,457.1 389.7,441.4 391.3,428.8 399.1,419.4 400.7,410.0 386.5,410.0 378.7,416.3" fill="#fff0d9" fill-opacity="0.85"/>
<polygon points="380.6,461.8 385.3,461.8 385.0,441.4 380.3,441.4" fill="#ffcccc"/>
<polygon points="388.1,490.1 392.8,496.4 396.0,503.0 403.8,505.0 411.7,511.3 419.8,511.3 422.6,507.1 421.6,506.6 423.4,503.5 423.4,503.5 423.4,503.4 423.5,503.3 423.5,503.3 423.5,503.2 423.8,496.9 424.6,491.3 425.7,487.0 426.1,483.8 426.5,482.3 426.7,479.2 428.9,473.0 428.9,472.9 428.9,472.8 428.9,472.8 424.6,470.7 423.8,470.7 415.6,474.4 414.1,479.3 413.9,480.8 412.5,485.6 411.8,486.4 411.7,487.0 411.0,487.3 409.5,489.1 406.7,489.9 403.8,491.7 402.0,491.3 400.4,491.8 399.3,490.8 396.0,490.1 389.7,487.0 383.4,483.8" fill="#8080ff"/>
<polygon points="396.0,496.7 400.7,499.8 408.5,501.4 413.6,498.0 418.3,491.7 424.6,480.7 427.7,474.4 424.2,471.3 418.0,476.0 411.7,488.5 403.8,492.5 394.4,491.7" fill="#0000ff"/>
<polygon points="416.1,492.5 421.9,490.9 421.1,481.5 414.8,483.0" fill="#8080ff"/>
<polygon points="411.7,503.0 414.8,507.7 419.8,511.3 422.6,507.1 421.6,506.6 423.4,503.5 423.4,503.5 423.4,503.4 423.5,503.3 423.5,503.3 423.5,503.2 423.8,496.9 424.3,493.4 424.2,491.7 418.0,494.8 411.7,498.0" fill="#000099"/>
<polygon points="419.5,504.6 421.4,510.8 423.8,507.7 423.7,507.2 423.1,507.4 421.6,506.6 423.4,503.5 423.4,503.5 423.4,503.4 423.0,498.0 420.3,498.0" fill="#ff00ff"/>
<polygon points="386.9,480.1 389.7,480.1 389.7,477.2 386.9,477.2" fill="#b31a1a"/>
<polygon points="384.2,482.7 386.9,482.7 386.9,480.1 384.2,480.1" fill="#000099"/>
<polygon points="387.3,485.7 390.0,485.7 390.0,483.0 387.3,483.0" fill="#0000ff"/>
<polygon points="443.4,425.7 446.5,438.3 448.9,446.4 450.9,447.4 452.2,441.4 451.9,430.6 451.8,430.2 451.5,427.0 451.5,427.0 451.4,426.9 450.0,421.9 448.7,415.0 448.7,414.9 448.4,413.2 449.0,410.0 438.4,410.0" fill="#8080ff"/>
<polygon points="448.1,421.0 449.7,428.8 451.9,430.4 451.8,430.2 451.5,427.0 451.5,427.0 451.4,426.9 450.0,421.9 448.7,415.0 448.7,414.9 448.4,413.2 448.8,411.1 447.0,411.6" fill="#0000ff"/>
<polygon points="435.7,463.8 440.4,461.4 446.7,460.6 453.0,462.2 459.3,467.7 465.5,472.4 470.3,476.3 474.2,479.5 471.8,481.8 465.5,481.0 460.8,480.3 457.7,474.0 451.4,469.3 445.1,466.9 438.8,466.9" fill="#8080ff"/>
<polygon points="456.9,468.5 465.5,472.4 470.3,476.3 474.2,479.5 471.8,483.4 461.6,484.2 459.3,477.1" fill="#0000ff"/>
<polygon points="461.2,481.0 470.3,480.3 470.6,484.2 461.5,484.7" fill="#000099"/>
<polygon points="437.0,465.3 441.2,464.9 441.5,467.7 437.3,468.2" fill="#9900e6"/>
<polygon points="435.1,463.8 437.6,463.8 437.6,469.3 435.1,469.3" fill="#000099"/>
<polygon points="467.9,477.1 470.6,477.1 470.6,479.5 467.9,479.5" fill="#ff00ff"/>
<polygon points="459.3,492.0 463.2,490.5 467.1,492.0 467.9,494.4 464.8,496.3 460.8,495.5" fill="#000099"/>
<polygon points="461.2,492.5 465.5,492.5 465.9,494.4 461.6,494.4" fill="#ffffff"/>
<polygon points="464.5,495.7 466.8,495.7 466.8,497.5 464.5,497.5" fill="#ff00ff"/>
<polygon points="473.4,489.7 477.3,484.2 481.3,481.8 489.1,482.6 493.8,486.5 495.7,490.5 493.0,494.1 487.5,493.6 484.4,495.7 480.5,492.8 475.0,493.6" fill="#000099"/>
<polygon points="478.1,485.0 482.8,483.4 483.6,488.9 479.4,490.5" fill="#0000ff"/>
<polygon points="484.7,483.7 488.8,483.4 489.4,488.4 485.7,489.4" fill="#ff00ff"/>
<polygon points="487.5,488.1 491.5,487.3 491.9,491.6 488.3,492.0" fill="#cc66cc"/>
<polygon points="499.3,490.0 504.0,489.4 505.8,492.8 504.0,496.0 500.1,495.7" fill="#000099"/>
<polygon points="502.0,491.6 504.5,491.6 504.5,494.1 502.0,494.1" fill="#ff00ff"/>
<polygon points="498.5,493.6 500.9,493.6 500.9,497.2 498.5,497.2" fill="#8080ff"/>
<polygon points="456.9,448.8 462.4,447.3 464.8,449.6 461.6,455.9 457.7,453.6" fill="#0000ff"/>
<polygon points="467.9,458.3 471.0,458.0 471.5,462.2 468.4,462.2" fill="#ccccff"/>
<polygon points="472.6,463.8 475.3,463.8 475.3,466.9 472.6,466.9" fill="#ccccff"/>
<polygon points="480.5,529.7 486.0,529.0 486.3,534.0 480.8,534.0" fill="#0000ff"/>
<polygon points="429.4,508.5 435.7,508.2 436.0,513.2 429.7,513.6" fill="#fff0d9"/>
<polygon points="420.0,499.1 422.8,499.1 423.5,511.7 420.0,511.7" fill="#ff00ff"/>
<polygon points="437.3,514.0 441.7,514.0 441.7,517.2 437.3,517.2" fill="#0000ff"/>
<polygon points="423.5,509.8 427.1,509.8 427.1,512.9 423.5,512.9" fill="#cc66cc"/>
<polygon points="488.8,536.2 497.5,540.0 507.5,547.5 509.5,555.0 500.0,550.0 491.2,542.5" fill="#fff0d9"/>
<polygon points="485.0,533.8 490.0,535.0 500.0,545.0 507.5,547.5 497.5,540.0 488.8,536.2" fill="#ccccff"/>
<polygon points="481.2,535.0 483.0,533.8 507.5,554.5 505.5,555.5" fill="#8080ff"/>
<polygon points="480.0,530.0 484.5,528.8 485.5,536.2 480.5,537.0" fill="#0000ff"/>
<polygon points="267.5,172.5 285.0,175.0 305.0,175.0 302.5,167.5 296.1,166.1 294.0,167.3 292.4,165.3 289.9,164.7 288.3,166.3 285.7,163.8 280.0,162.5 274.5,163.6 274.4,163.6 274.4,163.6 265.0,165.5" fill="#fff0d9" fill-opacity="0.7"/>
<polygon points="240.0,212.5 255.0,217.5 277.5,220.0 287.5,210.0 277.5,200.0 262.5,195.0 240.0,196.2" fill="#ffcccc" fill-opacity="0.7"/>
<polygon points="240.0,190.0 255.0,192.5 265.0,182.5 255.0,172.5 240.0,175.0" fill="#fff0d9" fill-opacity="0.7"/>
<polygon points="295.0,195.0 312.5,205.0 322.5,215.0 330.0,212.5 322.5,200.0 317.5,187.5 302.5,180.0 285.0,182.5" fill="#fff0d9" fill-opacity="0.7"/>
<polygon points="341.2,221.2 351.2,220.0 350.0,203.8 340.0,205.0" fill="#fff0d9"/>
<polygon points="320.5,235.5 328.5,235.0 328.0,228.8 320.0,229.5" fill="#fff0d9"/>
<polygon points="328.8,251.2 346.2,250.0 345.0,238.8 327.5,240.0" fill="#ffcccc" fill-opacity="0.7"/>
<polygon points="368.8,211.2 376.2,211.2 375.0,204.5 367.5,204.5" fill="#fff0d9"/>
<polygon points="268.8,232.5 277.5,236.2 286.2,230.0 281.2,221.2 267.5,222.5" fill="#8080ff"/>
<polygon points="250.5,184.2 258.0,183.8 257.5,179.0 250.0,179.5" fill="#8080ff"/>
<polygon points="412.5,260.0 431.2,260.0 430.7,254.4 427.9,252.9 422.0,248.0 410.0,248.8" fill="#8080ff"/>
<polygon points="298.8,150.0 307.5,153.8 311.1,151.9 312.5,149.8 314.1,149.1 312.4,150.4 312.3,150.5 312.3,150.5 312.2,150.6 312.2,150.7 312.2,150.7 312.1,150.8 312.1,150.9 312.1,151.0 312.1,151.1 312.1,151.1 312.1,151.2 312.1,151.3 312.2,151.4 312.2,151.4 315.0,150.0 312.5,140.0 297.5,141.2" fill="#fff0d9"/>
<polygon points="351.2,163.0 366.2,162.5 365.2,155.4 364.0,153.8 350.0,155.0" fill="#fff0d9"/>
<polygon points="328.0,132.0 340.5,131.2 340.2,127.4 337.8,126.6 334.1,124.7 327.5,125.0" fill="#fff0d9"/>
<polygon points="265.0,242.5 277.5,252.5 290.0,263.8 300.0,262.5 290.0,250.0 277.5,240.0 265.0,235.0" fill="#fff0d9" fill-opacity="0.7"/>
<polygon points="391.2,185.5 401.2,185.0 400.0,174.9 398.9,177.3 397.2,177.6 397.1,177.6 397.0,177.6 393.3,179.2 391.9,175.0 391.9,174.9 390.0,175.0" fill="#fff0d9" fill-opacity="0.7"/>
<polygon points="465.0,198.8 485.0,202.5 497.5,210.0 507.5,211.2 502.5,205.0 490.0,196.2 462.5,193.8" fill="#8080ff"/>
<polygon points="510.0,188.8 516.2,192.0 520.0,185.0 512.5,182.5" fill="#8080ff"/>
<polygon points="497.5,185.0 507.5,185.0 505.0,177.5 493.8,176.2" fill="#fff0d9"/>
<polygon points="475.0,161.2 486.2,162.5 485.0,156.2 472.5,153.8" fill="#fff0d9"/>
<polygon points="480.5,167.0 487.0,167.5 487.5,162.5 480.0,161.2" fill="#8080ff"/>
<polygon points="507.0,232.0 512.5,232.5 511.7,228.4 510.4,226.2 508.0,226.2 506.6,228.7" fill="#ff8080"/>
<polygon points="437.5,118.8 452.5,120.0 461.1,117.1 461.8,115.4 465.5,114.3 465.6,114.3 467.1,113.7 465.0,106.2 435.0,108.8" fill="#8080ff"/>
<polygon points="418.0,128.0 435.5,127.5 435.5,127.2 432.4,127.5 426.6,126.9 426.5,126.9 422.0,126.9 417.5,125.2" fill="#fff0d9"/>
<polygon points="435.0,123.8 419.5,124.9 420.2,125.4 420.2,125.4 420.3,125.5 420.4,125.5 420.4,125.5 420.5,125.5 420.6,125.5 426.5,126.1 426.5,126.1 435.3,126.1" fill="#fff0d9"/>
<polygon points="500.0,265.0 535.0,265.0 534.4,261.5 533.5,260.1 533.5,260.1 533.4,260.0 533.4,260.0 533.3,259.9 533.2,259.9 527.9,256.8 524.4,252.5 520.1,246.3 517.2,238.1 517.2,238.1 517.2,238.0 515.9,235.8 515.0,235.0 497.5,242.5" fill="#8080ff"/>
<polygon points="462.6,240.9 463.7,242.5 464.8,249.6 463.8,251.2 473.8,250.0 472.5,238.8 462.5,240.0" fill="#fff0d9"/>
<polygon points="417.5,261.2 430.0,260.0 428.5,253.3 427.9,252.9 423.4,249.2 415.0,250.0" fill="#8080ff"/>
<polygon points="545.0,162.5 548.8,167.6 552.8,168.2 552.9,168.2 553.0,168.2 553.0,168.2 553.1,168.2 553.2,168.2 557.7,166.7 558.4,172.3 552.0,173.9 548.8,182.5 555.0,195.0 565.0,210.0 577.5,222.5 585.3,228.3 588.8,226.2 588.9,226.2 589.0,226.1 589.0,226.1 589.1,226.0 589.1,225.9 589.1,225.8 589.2,225.8 589.2,225.7 591.0,217.5 591.0,217.4 591.0,217.4 587.5,207.5 577.5,190.0 572.5,172.5 562.5,157.5 550.0,147.5 541.8,149.6 541.2,151.8 541.2,151.8 541.2,151.9 541.2,152.0 541.2,152.1 541.2,152.2 541.3,152.2 541.3,152.3 541.3,152.4 543.2,155.1 543.2,155.2 543.3,155.2 543.3,155.3 543.4,155.3 543.4,155.4 543.5,155.4 543.6,155.4 543.7,155.5 543.7,155.5 543.8,155.5 543.9,155.5 544.0,155.5 549.0,154.6 551.5,157.1 551.5,157.1 551.6,157.2 556.8,160.7 557.2,161.8 554.1,161.2 548.7,158.5 548.7,158.5 548.6,158.5 548.5,158.5 548.4,158.4 548.4,158.4 548.3,158.5 548.2,158.5 548.1,158.5 548.1,158.5 548.0,158.6 547.9,158.6 547.9,158.6 547.8,158.7 547.7,158.8 545.0,162.4 545.0,162.5" fill="#fff0d9" fill-opacity="0.8"/>
<polygon points="551.4,168.0 552.8,168.2 552.9,168.2 553.0,168.2 553.0,168.2 553.1,168.2 553.2,168.2 557.7,166.7 558.4,172.3 552.2,173.9 550.0,185.0 555.0,187.5 562.5,202.5 572.5,217.5 585.0,225.0 582.5,217.5 573.8,200.0 567.5,182.5 562.5,165.0 550.0,162.5" fill="#ffcccc" fill-opacity="0.7"/>
<polygon points="577.5,195.0 586.2,210.0 593.8,205.0 590.0,187.5 582.5,172.5 567.5,175.0" fill="#ccccff"/>
<polygon points="549.5,189.8 550.4,191.5 550.4,191.6 550.5,191.6 550.6,191.7 551.6,192.7 558.8,193.8 557.5,186.2 548.8,185.0" fill="#ff8080"/>
<polygon points="572.0,222.0 578.0,221.2 577.5,215.5 571.2,216.2" fill="#ff8080"/>
<polygon points="605.0,186.2 622.5,180.0 627.5,175.0 615.0,180.0 602.5,186.2 593.8,192.5 591.2,196.2" fill="#fff0d9"/>
<polygon points="592.0,206.2 597.2,205.2 598.0,204.0 597.7,197.5 597.2,196.5 597.6,196.1 597.5,192.5 591.2,193.8" fill="#ffcccc"/>
<polygon points="592.5,203.5 596.5,203.0 596.2,197.0 592.0,197.5" fill="#ff8080"/>
<polygon points="545.3,164.1 546.3,165.9 553.0,165.5 552.6,160.4 550.9,159.6 546.9,159.9 545.2,162.2" fill="#ff8080"/>
<polygon points="594.2,180.0 601.8,179.5 601.2,174.5 593.8,175.0" fill="#ccccff"/>
<polygon points="654.1,194.6 656.9,193.7 661.0,196.4 659.6,198.3 656.0,197.3" fill="#8080ff"/>
<polygon points="660.5,200.5 662.8,200.1 668.3,204.2 666.4,206.5 662.8,205.5 660.5,202.4" fill="#8080ff"/>
<polygon points="656.0,191.0 658.2,190.5 661.0,193.7 664.6,197.3 668.7,202.4 669.2,204.2 666.4,203.7 663.7,200.1 661.0,196.4 657.8,193.2" fill="#0000ff"/>
<polygon points="621.2,214.5 623.8,213.0 626.2,215.5 623.8,218.0" fill="#ccccff"/>
<polygon points="448.8,166.3 452.3,167.0 452.4,167.0 452.5,167.0 452.6,167.0 452.6,167.0 452.7,167.0 457.7,165.8 457.8,165.8 457.8,165.7 457.9,165.7 458.0,165.7 458.0,165.6 458.1,165.6 459.3,164.3 448.8,166.2" fill="#ccccff"/>
<polygon points="462.5,191.2 470.0,191.2 476.2,186.2 480.0,177.5 478.5,176.0 479.1,178.6 475.6,184.5 469.7,190.4 462.8,190.4" fill="#ccccff"/>
<polygon points="472.5,170.0 466.1,166.0 468.2,168.1 468.2,168.1 468.3,168.2 468.4,168.2 473.0,170.5" fill="#ccccff"/>
<polygon points="276.7,283.8 285.3,286.1 296.2,293.9 299.4,299.4 297.8,304.1 293.1,303.3 287.7,297.8 281.4,291.6 275.9,286.1" fill="#ccccff"/>
<polygon points="276.7,284.5 282.2,288.4 288.4,294.7 293.1,300.2 293.1,302.8 288.4,298.6 282.2,292.3 276.7,286.6" fill="#0000ff"/>
<polygon points="261.1,265.0 264.2,265.8 265.8,272.8 267.3,277.5 265.0,276.7 262.7,269.7" fill="#8080ff"/>
<polygon points="261.6,265.3 264.1,265.9 265.0,269.7 262.7,269.4" fill="#000099"/>
<polygon points="116.7,206.1 119.9,205.0 125.2,207.6 124.1,210.0 119.9,208.7" fill="#8080ff"/>
<polygon points="203.0,298.8 205.0,296.8 207.0,298.8 205.0,300.8" fill="#ccccff"/>
<polygon points="592.0,332.0 595.5,329.5 596.0,330.5 593.0,333.0" fill="#ccccff"/>
<polygon points="452.1,392.5 448.2,400.3 452.1,402.9 456.6,397.4 458.6,394.0 459.9,393.8 462.5,391.2 463.5,389.6 464.2,389.5 465.1,388.6 469.3,382.1 465.1,379.5 457.3,384.7" fill="#8080ff"/>
<polygon points="464.5,386.0 468.0,383.4 466.4,380.1 462.5,382.1" fill="#0000ff"/>
<polygon points="448.2,376.9 450.8,382.1 456.0,379.5 461.2,373.0 458.6,366.5 452.1,369.1" fill="#fff0d9" fill-opacity="0.8"/>
<polygon points="445.6,395.1 449.5,397.7 452.1,391.2 449.5,386.0 444.3,387.3" fill="#fff0d9"/>
<polygon points="445.6,356.7 451.0,356.0 450.8,343.7 443.0,344.3" fill="#ccccff"/>
<path fill="#fff0d9" d="M349 325h4v3h-4zM351 327h4v3h-4zM342 382h2v3h-2zM358 339h5v2h-5zM360 341h5v2h-5zM315 384h5v2h-5zM317 386h5v2h-5zM334 398h4v2h-4zM336 400h4v2h-4zM347 354h4v3h-4zM349 356h4v3h-4zM351 358h4v3h-4zM313 322h3v3h-3zM315 324h3v3h-3zM361 342h5v2h-5zM340 375h3v2h-3zM342 377h3v2h-3zM358 402h5v3h-5zM360 404h5v3h-5zM362 406h5v3h-5zM354 369h3v3h-3zM356 371h3v3h-3zM358 373h3v3h-3zM364 351h5v3h-5zM366 353h5v3h-5zM368 355h5v3h-5zM355 349h4v3h-4zM322 392h3v2h-3zM324 394h3v2h-3zM342 309h3v4h-3zM344 311h3v4h-3zM322 376h4v2h-4zM324 378h4v2h-4zM345 403h5v4h-5zM347 405h5v4h-5zM341 315h3v2h-3zM334 390h3v3h-3zM336 392h3v3h-3zM338 394h3v3h-3zM320 389h3v3h-3zM322 391h3v3h-3zM342 363h2v3h-2zM344 365h2v3h-2zM346 367h2v3h-2zM352 353h5v2h-5zM354 355h5v2h-5zM362 349h3v4h-3zM364 351h3v4h-3zM366 353h3v4h-3zM266 184h4v3h-4zM247 173h5v3h-5zM264 239h3v2h-3zM269 205h3v3h-3zM271 207h3v3h-3zM317 263h3v2h-3zM319 265h3v2h-3zM321 267h3v2h-3zM279 220h3v2h-3zM297 182h5v3h-5zM354 243h3v4h-3zM289 246h4v3h-4zM265 204h2v2h-2zM303 253h3v2h-3zM318 227h3v3h-3zM320 229h3v3h-3zM332 211h5v2h-5zM334 213h5v2h-5zM248 178h3v3h-3zM250 180h3v3h-3zM252 182h3v3h-3zM315 201h3v2h-3zM317 203h3v2h-3zM295 176h2v3h-2zM297 178h2v3h-2zM237 207h3v3h-3zM239 209h3v3h-3zM241 211h3v3h-3zM324 180h5v2h-5zM326 182h5v2h-5zM273 202h5v2h-5zM275 204h5v2h-5zM310 217h4v2h-4zM312 219h4v2h-4zM337 217h3v4h-3zM292 197h3v2h-3zM313 294h5v2h-5zM315 296h5v2h-5zM317 298h5v2h-5zM299 202h2v2h-2zM301 204h2v2h-2zM303 206h2v2h-2zM320 196h3v2h-3zM322 198h3v2h-3zM288 175h4v3h-4zM319 225h3v3h-3zM239 203h3v4h-3zM336 223h3v2h-3zM338 225h3v2h-3zM309 296h4v2h-4zM311 298h4v2h-4zM285 225h5v2h-5zM287 227h5v2h-5zM273 230h3v3h-3zM275 232h3v3h-3zM277 234h3v3h-3zM340 214h4v3h-4zM347 206h3v2h-3zM349 208h3v2h-3zM243 192h4v4h-4zM245 194h4v4h-4zM332 288h3v2h-3zM341 270h3v4h-3zM323 213h5v3h-5zM325 215h5v3h-5zM327 217h5v3h-5zM292 181h5v2h-5zM294 183h5v2h-5zM308 203h3v2h-3zM310 205h3v2h-3zM353 208h3v2h-3zM360 228h3v3h-3zM362 230h3v3h-3zM265 232h4v2h-4zM351 236h4v3h-4zM353 238h4v3h-4zM372 203h2v2h-2zM374 205h2v2h-2zM376 207h2v2h-2zM370 254h3v3h-3zM395 219h5v4h-5zM402 204h5v2h-5zM404 206h5v2h-5zM358 186h4v3h-4zM360 188h4v3h-4zM335 182h3v3h-3zM337 184h3v3h-3zM470 258h5v2h-5zM472 260h5v2h-5zM462 316h3v2h-3zM405 283h5v2h-5zM468 294h2v4h-2zM470 296h2v4h-2zM472 298h2v4h-2zM408 274h3v2h-3zM410 276h3v2h-3zM412 278h3v2h-3zM461 266h2v4h-2zM460 296h4v4h-4zM462 298h4v4h-4zM485 285h4v3h-4zM487 287h4v3h-4zM485 259h3v4h-3zM487 261h3v4h-3zM408 282h3v2h-3zM410 284h3v2h-3zM404 292h3v3h-3zM406 294h3v3h-3zM464 293h4v2h-4zM505 286h2v2h-2zM507 288h2v2h-2zM490 273h4v3h-4zM504 278h5v2h-5zM506 280h5v2h-5zM410 270h4v3h-4zM414 281h3v2h-3zM416 283h3v2h-3zM495 272h4v3h-4zM497 274h4v3h-4zM415 269h3v2h-3zM417 271h3v2h-3zM491 266h3v2h-3zM443 279h5v3h-5zM475 289h5v2h-5zM477 291h5v2h-5zM440 281h2v3h-2zM442 283h2v3h-2zM402 258h3v3h-3zM407 295h2v2h-2zM409 297h2v2h-2zM411 299h2v2h-2zM412 271h3v4h-3zM414 273h3v4h-3zM451 321h4v3h-4zM453 323h4v3h-4zM405 260h3v3h-3zM407 262h3v3h-3zM491 264h2v2h-2zM493 266h2v2h-2zM495 268h2v2h-2zM437 301h2v4h-2zM439 303h2v4h-2zM372 310h3v2h-3zM388 309h3v2h-3zM379 301h3v2h-3zM381 303h3v2h-3zM369 310h2v3h-2zM368 312h3v3h-3zM370 314h3v3h-3zM395 366h5v2h-5zM397 368h5v2h-5zM415 355h2v3h-2zM417 357h2v3h-2zM406 370h4v2h-4zM408 372h4v2h-4zM398 371h3v3h-3zM400 373h3v3h-3zM452 400h3v3h-3zM459 378h5v3h-5zM461 380h5v3h-5zM358 462h3v2h-3zM358 434h3v2h-3zM360 436h3v2h-3zM372 469h3v2h-3zM374 427h4v2h-4zM376 429h4v2h-4zM362 437h4v2h-4zM364 439h4v2h-4zM373 456h5v3h-5zM375 458h5v3h-5zM223 215h3v3h-3zM220 208h3v2h-3zM222 210h3v2h-3zM179 176h3v3h-3zM181 178h3v3h-3zM227 200h3v2h-3zM229 202h3v2h-3zM198 215h3v3h-3zM187 176h5v2h-5zM161 176h3v3h-3zM163 178h3v3h-3zM204 181h2v2h-2zM206 183h2v2h-2zM163 186h2v4h-2zM165 188h2v4h-2zM168 216h3v4h-3zM170 218h3v4h-3zM168 225h3v2h-3zM170 227h3v2h-3zM194 193h2v4h-2zM189 199h3v2h-3zM212 190h3v3h-3zM214 192h3v3h-3zM190 220h2v2h-2zM226 207h2v2h-2zM228 209h2v2h-2zM230 211h2v2h-2zM209 177h3v2h-3zM211 179h3v2h-3zM161 204h2v2h-2zM225 219h3v3h-3zM180 178h2v2h-2zM161 185h3v2h-3zM163 187h3v2h-3zM165 189h3v2h-3zM351 151h5v3h-5zM334 166h3v2h-3zM336 168h3v2h-3zM338 170h3v2h-3zM563 193h2v4h-2zM567 209h5v3h-5zM569 188h5v2h-5zM571 176h3v2h-3zM573 204h2v4h-2zM579 214h4v3h-4zM581 216h4v3h-4zM571 198h4v2h-4zM573 200h4v2h-4zM572 183h4v2h-4zM574 185h4v2h-4zM584 206h3v2h-3zM586 208h3v2h-3zM585 208h5v3h-5zM587 210h5v3h-5z"/>
<path fill="#8080ff" d="M363 399h2v2h-2zM321 316h3v3h-3zM323 318h3v3h-3zM325 320h3v3h-3zM311 301h3v3h-3zM313 303h3v3h-3zM352 390h5v3h-5zM354 392h5v3h-5zM356 394h5v3h-5zM361 351h2v2h-2zM363 353h2v2h-2zM329 332h4v3h-4zM331 334h4v3h-4zM333 336h4v3h-4zM473 275h4v3h-4zM475 277h4v3h-4zM467 308h4v2h-4zM469 310h4v2h-4zM495 269h2v3h-2zM471 269h2v3h-2zM477 278h5v2h-5zM479 280h5v2h-5zM481 282h5v2h-5zM487 286h5v2h-5zM489 288h5v2h-5zM478 252h5v3h-5zM480 254h5v3h-5zM482 256h5v3h-5zM493 262h3v3h-3zM430 286h5v3h-5zM432 288h5v3h-5zM430 280h5v2h-5zM432 282h5v2h-5zM434 284h5v2h-5zM496 282h3v2h-3zM419 260h3v3h-3zM474 249h2v2h-2zM483 266h3v4h-3zM485 268h3v4h-3zM466 271h2v4h-2zM462 268h5v3h-5zM450 284h3v3h-3zM452 286h3v3h-3zM489 256h5v2h-5zM491 258h5v2h-5zM493 260h5v2h-5zM487 300h4v2h-4zM467 275h3v3h-3zM469 277h3v3h-3zM471 279h3v3h-3zM480 295h4v4h-4zM482 297h4v4h-4zM473 240h4v3h-4zM475 242h4v3h-4zM477 244h4v3h-4zM485 224h5v3h-5zM487 226h5v3h-5zM489 228h5v3h-5zM469 219h2v4h-2zM471 221h2v4h-2zM478 222h2v4h-2zM423 385h4v2h-4zM425 387h4v2h-4zM399 408h3v2h-3zM399 373h3v2h-3zM401 375h3v2h-3zM403 377h3v2h-3zM420 404h5v3h-5zM430 394h3v2h-3zM432 396h3v2h-3zM423 381h2v3h-2zM425 383h2v3h-2zM428 395h5v3h-5zM430 397h5v3h-5zM432 399h5v3h-5zM401 416h2v4h-2zM403 418h2v4h-2zM419 383h2v2h-2zM421 385h2v2h-2zM457 385h4v2h-4zM459 387h4v2h-4zM456 359h2v2h-2zM443 393h4v4h-4zM399 394h2v2h-2zM401 396h2v2h-2zM409 395h3v2h-3zM439 369h3v2h-3zM443 371h4v2h-4zM445 373h4v2h-4zM430 401h4v3h-4zM402 399h4v3h-4zM404 401h4v3h-4zM406 403h4v3h-4zM497 202h3v2h-3zM497 197h4v3h-4zM481 203h3v3h-3zM489 192h3v2h-3zM491 194h3v2h-3zM493 196h3v2h-3zM492 190h2v2h-2zM494 192h2v2h-2zM470 196h3v2h-3zM493 200h4v3h-4zM495 202h4v3h-4z"/>
<path fill="#ffcccc" d="M313 342h3v4h-3zM315 344h3v4h-3zM340 303h2v3h-2zM342 305h2v3h-2zM335 313h4v4h-4zM337 315h4v4h-4zM339 317h4v4h-4zM329 350h3v2h-3zM285 265h5v2h-5zM287 267h5v2h-5zM239 206h3v3h-3zM265 200h3v2h-3zM267 208h4v2h-4zM289 210h3v3h-3zM291 212h3v3h-3zM282 250h3v2h-3zM284 252h3v2h-3zM449 279h3v2h-3zM434 285h5v2h-5zM436 287h5v2h-5zM459 296h2v3h-2zM477 284h4v2h-4zM189 210h4v3h-4zM191 212h4v3h-4zM193 214h4v3h-4zM169 191h3v2h-3zM171 193h3v2h-3zM222 184h5v2h-5zM224 189h4v3h-4zM214 205h2v4h-2zM216 207h2v4h-2zM210 204h3v4h-3zM212 206h3v4h-3zM214 208h3v4h-3zM227 195h5v4h-5zM214 204h3v2h-3zM216 206h3v2h-3zM153 220h2v3h-2zM155 222h2v3h-2zM196 211h5v3h-5zM198 213h5v3h-5zM181 212h3v2h-3zM183 219h3v2h-3zM185 221h3v2h-3zM169 204h3v3h-3zM171 206h3v3h-3zM170 219h2v2h-2zM171 234h4v2h-4zM173 236h4v2h-4z"/>
<path fill="#ccccff" d="M512 252h5v2h-5zM505 256h3v2h-3zM509 247h3v3h-3zM498 252h3v3h-3zM519 265h3v3h-3zM494 249h3v3h-3zM496 251h3v3h-3zM498 253h3v3h-3zM504 255h5v3h-5zM506 257h5v3h-5zM508 259h5v3h-5zM485 241h4v2h-4zM500 282h5v2h-5zM538 272h4v2h-4zM502 242h3v2h-3zM504 244h3v2h-3zM506 246h3v2h-3zM509 277h3v3h-3zM511 279h3v3h-3zM485 265h3v2h-3zM487 267h3v2h-3zM489 259h2v3h-2zM491 261h2v3h-2zM490 243h4v4h-4zM500 277h3v4h-3zM502 279h3v4h-3zM509 262h2v2h-2zM511 264h2v2h-2zM519 279h3v3h-3zM521 281h3v3h-3zM523 283h3v3h-3zM513 259h4v2h-4zM515 261h4v2h-4zM517 263h4v2h-4zM503 283h4v2h-4zM514 275h4v2h-4zM516 277h4v2h-4zM531 272h4v3h-4zM533 274h4v3h-4zM533 268h4v3h-4zM535 270h4v3h-4zM537 272h4v3h-4zM490 263h3v4h-3zM492 265h3v4h-3zM494 267h3v4h-3zM381 354h3v2h-3zM383 356h3v2h-3zM366 338h3v3h-3zM368 340h3v3h-3zM370 342h3v3h-3zM373 316h5v2h-5zM375 318h5v2h-5zM378 336h3v2h-3zM380 338h3v2h-3zM382 340h3v2h-3zM392 321h3v3h-3zM366 320h5v2h-5zM380 354h3v4h-3zM382 356h3v4h-3zM394 348h2v4h-2zM382 321h5v3h-5zM384 323h5v3h-5zM386 325h5v3h-5zM398 380h2v2h-2zM380 428h3v3h-3zM382 405h3v3h-3zM384 407h3v3h-3zM385 392h3v3h-3zM387 394h3v3h-3zM384 430h5v3h-5zM391 426h4v2h-4zM393 428h4v2h-4zM390 399h5v3h-5zM392 401h5v3h-5zM607 169h3v2h-3zM593 154h4v2h-4zM615 172h2v3h-2zM617 174h2v3h-2zM607 169h5v2h-5zM619 173h2v4h-2zM593 163h4v2h-4zM595 165h4v2h-4z"/>
<path fill="#ff0000" d="M171 227h3v3h-3zM197 202h3v2h-3zM230 214h4v2h-4zM232 216h4v2h-4z"/>
<path fill="#ff8080" d="M164 196h3v2h-3zM173 192h5v2h-5zM175 194h5v2h-5zM177 196h5v2h-5zM221 192h2v4h-2zM223 194h2v4h-2zM178 199h2v4h-2zM180 201h2v4h-2zM182 203h2v4h-2zM575 187h4v2h-4zM577 189h4v2h-4zM575 213h3v2h-3zM553 185h4v3h-4zM571 191h3v3h-3zM573 193h3v3h-3z"/>
<polygon points="179.2,213.3 185.8,211.7 185.0,207.5 178.3,208.3" fill="#0000ff"/>
<polygon points="183.3,177.5 200.0,177.8 200.0,175.8 183.3,175.0" fill="#ff0000"/>
<polygon points="174.2,184.2 180.0,185.8 190.0,185.3 191.7,181.7 185.0,179.7 175.0,180.3" fill="#b31a1a"/>
<polygon points="184.2,184.7 188.3,184.7 188.3,182.0 184.2,182.5" fill="#ff8000"/>
<polygon points="176.7,182.5 180.8,182.5 180.8,180.0 176.7,180.3" fill="#cccc4d"/>
<polygon points="160.3,202.0 167.0,201.3 166.7,198.0 160.0,198.7" fill="#ff0000"/>
<polygon points="178.7,196.7 185.0,196.3 185.0,193.3 178.3,193.7" fill="#ff0000"/>
<polygon points="169.0,202.7 173.7,202.3 173.7,199.7 168.7,200.0" fill="#ff0000"/>
<polygon points="198.3,217.5 205.8,215.8 205.0,212.5 197.5,214.2" fill="#ff0000"/>
<polygon points="209.2,209.2 217.5,210.0 216.7,206.7 208.3,205.8" fill="#ff0000"/>
<polygon points="190.3,210.8 196.3,210.0 195.8,206.7 190.0,207.5" fill="#ff8000"/>
<polygon points="186.3,220.8 191.3,220.0 190.8,216.7 185.8,217.5" fill="#cccc4d"/>
<polygon points="184.7,223.7 189.7,223.3 189.2,219.7 184.2,220.0" fill="#ff8000"/>
<polygon points="183.7,219.2 188.0,218.3 187.5,215.3 183.3,216.3" fill="#b31a1a"/>
<polygon points="160.8,229.2 166.7,228.3 165.8,224.2 160.0,225.0" fill="#ff0000"/>
<polygon points="174.2,232.5 180.8,231.7 180.0,227.5 173.3,228.3" fill="#ff0000"/>
<polygon points="214.2,217.5 219.2,217.5 219.2,214.2 214.2,214.2" fill="#cccc4d"/>
<polygon points="209.7,220.0 214.2,220.0 214.2,216.7 209.7,216.7" fill="#ff8000"/>
<polygon points="220.8,223.3 226.7,223.3 236.7,225.0 238.3,222.5 231.7,219.2 225.0,217.5 220.0,220.8" fill="#ff0000"/>
<polygon points="192.5,232.5 195.6,231.8 198.9,228.9 198.9,228.9 199.5,228.3 191.7,230.0 191.7,230.0" fill="#ff0000"/>
<polygon points="197.5,228.3 199.6,228.2 202.2,225.6 202.8,225.0 197.5,225.3" fill="#ff8000"/>
<polygon points="193.0,227.5 196.7,227.5 196.7,224.7 194.0,224.9 193.0,226.5" fill="#0000ff"/>
<polygon points="176.7,240.8 181.3,239.7 182.2,238.9 182.2,238.9 182.3,238.8 183.0,237.9 182.5,235.8 175.8,237.5" fill="#ff8000"/>
<polygon points="183.0,247.0 187.2,245.2 189.2,243.0 188.3,240.8 181.7,243.3" fill="#ff0000"/>
<polygon points="162.5,252.3 165.4,252.0 165.8,251.8 165.8,249.7 162.5,250.0" fill="#ff8000"/>
<polygon points="419.5,375.0 418.7,379.7 421.8,382.8 425.8,384.4 428.1,389.1 432.8,390.7 436.0,386.0 439.1,381.3 440.7,375.0 439.1,368.7 436.0,365.5 437.5,360.1 432.8,358.5 428.1,360.8 425.0,365.5 421.8,371.8" fill="#0000ff"/>
<polygon points="420.3,375.0 421.8,380.5 426.5,382.8 432.8,381.3 436.0,375.0 434.4,368.7 428.1,367.1 421.8,368.7" fill="#000099"/>
<polygon points="392.0,377.3 393.6,382.0 397.5,384.4 400.6,381.3 399.8,374.2 393.6,374.2" fill="#0000ff"/>
<polygon points="445.4,411.1 448.1,415.0 448.4,413.3 448.4,413.2 449.3,408.3 449.5,407.8 448.5,400.1 443.8,401.7" fill="#0000ff"/>
<polygon points="414.8,415.8 417.1,420.5 419.1,418.6 418.9,417.0 420.1,416.7 418.7,411.1 414.0,409.5" fill="#0000ff"/>
<polygon points="287.6,309.1 293.6,309.1 293.9,316.4 288.5,316.9" fill="#0000ff"/>
<polygon points="288.5,320.1 293.6,320.1 293.9,332.6 289.2,333.1" fill="#0000ff"/>
<polygon points="288.5,323.2 292.0,323.2 292.0,330.3 288.8,330.3" fill="#000099"/>
<polygon points="288.8,346.0 296.7,348.8 301.4,355.4 306.4,364.8 308.5,373.5 303.3,371.9 298.3,364.8 293.6,358.5 290.4,352.3" fill="#0000ff"/>
<polygon points="293.6,363.2 299.1,362.9 303.8,368.0 305.3,371.9 301.4,370.8 296.7,367.2" fill="#000099"/>
<polygon points="287.3,287.9 290.7,291.4 294.2,293.7 295.2,294.8 300.2,295.7 296.7,287.9 290.4,280.0 282.6,280.0" fill="#ff0000"/>
<polygon points="274.4,280.0 279.7,280.0 281.0,289.4 276.3,288.6" fill="#000099"/>
<polygon points="276.3,288.6 281.8,289.4 288.8,298.8 292.0,306.7 288.5,305.9 282.6,297.3" fill="#0000ff"/>
<polygon points="215.0,221.2 221.2,222.0 230.6,225.9 238.4,227.5 240.0,224.4 233.8,221.2 224.4,217.3 215.0,216.6" fill="#ff0000"/>
<polygon points="247.8,232.2 255.6,235.3 263.4,234.5 261.9,231.4 252.5,227.5 244.7,228.3" fill="#ff0000"/>
<polygon points="239.2,230.3 244.7,229.8 243.9,226.7 238.4,227.2" fill="#ff8000"/>
<polygon points="247.0,240.8 251.2,240.0 250.2,235.3 246.2,236.1" fill="#ff8000"/>
<polygon points="266.6,247.8 274.4,247.0 272.8,243.1 265.0,243.9" fill="#b31a1a"/>
<polygon points="268.9,258.0 273.1,257.2 272.0,251.7 268.1,252.5" fill="#ff0000"/>
<polygon points="271.2,268.1 276.2,267.3 275.2,261.1 270.5,261.9" fill="#ff0000"/>
<polygon points="283.8,284.5 290.0,288.4 296.2,295.5 300.2,293.1 296.2,283.8 288.4,277.5 280.6,278.3" fill="#ff0000"/>
<polygon points="286.1,282.5 291.6,281.9 289.2,278.3 283.8,278.8" fill="#b31a1a"/>
<polygon points="256.9,261.9 261.9,262.7 265.8,268.9 262.7,269.7 258.8,266.6" fill="#0000ff"/>
<polygon points="259.5,264.2 265.0,264.7 265.8,268.1 261.1,268.1" fill="#000099"/>
<polygon points="268.9,266.6 273.6,271.2 277.5,279.1 280.6,285.3 277.5,286.1 272.8,277.5 269.7,272.0" fill="#000099"/>
<polygon points="275.2,283.8 280.6,285.3 286.9,293.1 291.6,302.5 288.4,302.5 282.2,294.7 276.7,288.4" fill="#0000ff"/>
<polygon points="511.5,279.3 518.5,280.1 521.7,276.1 517.0,272.2 509.9,275.3" fill="#0000ff"/>
<polygon points="535.0,295.0 537.7,296.9 542.1,288.7 537.4,287.1" fill="#0000ff"/>
<polygon points="539.7,304.4 542.1,306.0 543.7,299.7 540.5,298.1" fill="#0000ff"/>
<polygon points="483.2,329.2 485.2,328.7 485.5,325.6 483.2,326.1" fill="#ff0000"/>
<polygon points="413.3,307.7 416.4,305.3 415.3,303.3 412.2,305.3" fill="#ff0000"/>
<polygon points="482.9,330.0 484.6,329.7 484.9,325.0 482.9,325.8" fill="#ff0000"/>
<polygon points="396.0,496.7 400.7,499.8 408.5,501.4 413.6,498.0 418.3,491.7 424.6,480.7 427.7,474.4 424.2,471.3 418.0,476.0 411.7,488.5 403.8,492.5 394.4,491.7" fill="#0000ff"/>
<polygon points="411.7,503.0 414.8,507.7 419.8,511.3 422.6,507.1 421.6,506.6 423.4,503.5 423.4,503.5 423.4,503.4 423.5,503.3 423.5,503.3 423.5,503.2 423.8,496.9 424.3,493.4 424.2,491.7 418.0,494.8 411.7,498.0" fill="#000099"/>
<polygon points="419.5,504.6 421.4,510.8 423.8,507.7 423.7,507.2 423.1,507.4 421.6,506.6 423.4,503.5 423.4,503.5 423.4,503.4 423.0,498.0 420.3,498.0" fill="#ff00ff"/>
<polygon points="386.9,480.1 389.7,480.1 389.7,477.2 386.9,477.2" fill="#b31a1a"/>
<polygon points="384.2,482.7 386.9,482.7 386.9,480.1 384.2,480.1" fill="#000099"/>
<polygon points="387.3,485.7 390.0,485.7 390.0,483.0 387.3,483.0" fill="#0000ff"/>
<polygon points="448.1,421.0 449.7,428.8 451.9,430.4 451.8,430.2 451.5,427.0 451.5,427.0 451.4,426.9 450.0,421.9 448.7,415.0 448.7,414.9 448.4,413.2 448.8,411.1 447.0,411.6" fill="#0000ff"/>
<polygon points="456.9,468.5 465.5,472.4 470.3,476.3 474.2,479.5 471.8,483.4 461.6,484.2 459.3,477.1" fill="#0000ff"/>
<polygon points="461.2,481.0 470.3,480.3 470.6,484.2 461.5,484.7" fill="#000099"/>
<polygon points="437.0,465.3 441.2,464.9 441.5,467.7 437.3,468.2" fill="#9900e6"/>
<polygon points="435.1,463.8 437.6,463.8 437.6,469.3 435.1,469.3" fill="#000099"/>
<polygon points="467.9,477.1 470.6,477.1 470.6,479.5 467.9,479.5" fill="#ff00ff"/>
<polygon points="459.3,492.0 463.2,490.5 467.1,492.0 467.9,494.4 464.8,496.3 460.8,495.5" fill="#000099"/>
<polygon points="464.5,495.7 466.8,495.7 466.8,497.5 464.5,497.5" fill="#ff00ff"/>
<polygon points="473.4,489.7 477.3,484.2 481.3,481.8 489.1,482.6 493.8,486.5 495.7,490.5 493.0,494.1 487.5,493.6 484.4,495.7 480.5,492.8 475.0,493.6" fill="#000099"/>
<polygon points="478.1,485.0 482.8,483.4 483.6,488.9 479.4,490.5" fill="#0000ff"/>
<polygon points="484.7,483.7 488.8,483.4 489.4,488.4 485.7,489.4" fill="#ff00ff"/>
<polygon points="487.5,488.1 491.5,487.3 491.9,491.6 488.3,492.0" fill="#cc66cc"/>
<polygon points="499.3,490.0 504.0,489.4 505.8,492.8 504.0,496.0 500.1,495.7" fill="#000099"/>
<polygon points="502.0,491.6 504.5,491.6 504.5,494.1 502.0,494.1" fill="#ff00ff"/>
<polygon points="456.9,448.8 462.4,447.3 464.8,449.6 461.6,455.9 457.7,453.6" fill="#0000ff"/>
<polygon points="480.5,529.7 486.0,529.0 486.3,534.0 480.8,534.0" fill="#0000ff"/>
<polygon points="420.0,499.1 422.8,499.1 423.5,511.7 420.0,511.7" fill="#ff00ff"/>
<polygon points="437.3,514.0 441.7,514.0 441.7,517.2 437.3,517.2" fill="#0000ff"/>
<polygon points="423.5,509.8 427.1,509.8 427.1,512.9 423.5,512.9" fill="#cc66cc"/>
<polygon points="480.0,530.0 484.5,528.8 485.5,536.2 480.5,537.0" fill="#0000ff"/>
<polygon points="656.0,191.0 658.2,190.5 661.0,193.7 664.6,197.3 668.7,202.4 669.2,204.2 666.4,203.7 663.7,200.1 661.0,196.4 657.8,193.2" fill="#0000ff"/>
<polygon points="276.7,284.5 282.2,288.4 288.4,294.7 293.1,300.2 293.1,302.8 288.4,298.6 282.2,292.3 276.7,286.6" fill="#0000ff"/>
<polygon points="261.6,265.3 264.1,265.9 265.0,269.7 262.7,269.4" fill="#000099"/>
<polygon points="464.5,386.0 468.0,383.4 466.4,380.1 462.5,382.1" fill="#0000ff"/>
<polygon points="605.0,150.0 612.5,153.8 622.5,161.2 632.5,168.8 640.0,174.5 636.2,174.5 627.5,168.8 622.5,166.2 616.2,165.0 611.2,161.2 613.8,158.8 607.5,153.8" fill="#0000ff"/>
<polygon points="628.8,174.0 635.0,172.5 641.2,174.2 640.0,176.5 630.0,176.0" fill="#ff0000"/>
</g>
<g fill="none" stroke="#000" stroke-width="1" stroke-linejoin="round">
<polyline points="231.3,166.3 223.3,164.2 213.3,162.5 201.7,161.7 193.3,160.8 185.0,158.3 175.8,155.3 170.0,157.5 163.3,160.0 155.0,162.5 150.8,167.5 145.0,170.8 140.0,171.7 139.2,175.0 143.3,177.5 146.7,181.7 150.0,184.2 155.0,185.8 155.0,188.0 150.0,189.2 148.3,186.7 141.7,187.0 135.0,190.0 133.3,193.0 136.7,195.8 145.0,197.5 153.3,198.7 159.2,199.2 160.8,201.7 156.7,204.2 150.0,207.5 145.0,208.3 141.7,214.2 140.0,218.3 143.3,221.7 145.0,226.7 148.3,229.2 155.0,230.0 157.5,234.2 165.0,235.0 170.0,235.8 171.3,240.8 169.2,244.2 163.3,248.3 158.3,251.7 152.5,255.8 146.7,259.2 144.2,261.3 147.5,261.3 151.7,259.2 158.3,255.3 165.8,250.8 171.7,246.7 176.7,242.5 181.7,238.3 185.0,234.2 187.5,228.3 188.3,225.0 192.5,221.7 195.8,220.0 198.3,219.7 195.8,223.3 193.3,227.5 192.0,231.7 194.2,232.0 198.3,228.3 201.7,225.0 205.0,222.0 208.3,224.2 213.3,225.8 218.3,227.0 225.0,228.0 231.3,228.7 224.4,227.5 232.2,229.8 238.4,232.2 243.9,236.9 248.6,241.6 252.5,246.2 255.9,251.7 259.5,256.4 262.7,260.3 266.6,264.2 269.7,268.1 272.8,272.0 276.7,277.5 280.6,283.8 285.3,286.9 290.0,290.0 294.7,293.1 297.8,296.2 298.6,300.2 297.5,304.1 296.2,307.2 297.2,297.9 298.3,302.4 298.7,307.4 296.9,308.7 297.6,303.6 295.8,302.7 290.3,301.1 292.5,310.6 292.9,315.0 292.5,325.8 291.1,336.6 292.2,342.9 291.4,351.8 293.6,358.7 296.5,367.0 298.3,370.1 300.5,375.8 302.7,381.5 305.2,388.5 310.3,391.7 313.2,393.6 317.2,398.6 318.0,401.8 319.8,408.1 322.3,415.1 325.6,421.4 328.5,426.5 325.6,431.6 329.2,436.0 332.9,440.4 335.8,449.3 338.3,453.1 342.7,460.1 344.1,462.6 346.0,460.1 342.7,453.7 340.9,449.3 338.7,441.7 335.4,435.4 333.6,429.0 330.7,421.4 327.1,414.5 326.3,406.9 332.5,410.0 335.8,422.1 340.1,430.9 344.5,437.9 346.3,445.5 351.1,450.6 356.5,460.1 359.4,468.3 360.9,477.8 364.1,486.7 369.2,492.4 374.7,497.4 380.5,501.2 387.4,506.3 393.6,508.2 398.3,505.0 402.0,506.3 408.5,515.8 412.1,519.6 416.5,520.9 422.0,524.0 424.9,524.0 425.6,525.9 429.2,531.6 432.1,537.3 431.8,542.4 434.3,546.8 436.1,546.8 439.4,551.3 441.9,555.1 443.4,556.3"/>
<polyline points="443.4,556.3 446.3,551.3 444.9,550.6 441.9,544.3 439.8,538.6 439.0,531.6 440.1,525.3 441.2,513.3 438.3,508.2 434.7,506.6 431.0,507.6 425.6,507.6 423.0,508.2 420.5,506.9 422.7,503.1 423.0,496.8 423.8,491.1 425.6,484.1 426.0,479.1 428.1,472.7 425.6,471.5 422.0,471.5 415.4,474.6 414.7,481.0 413.2,486.0 410.0,489.8 405.6,491.1 400.1,492.7 396.5,489.2 394.0,485.4 390.3,475.9 388.5,468.3 388.1,462.6 388.5,455.6 389.6,447.4 390.5,443.3 390.0,436.6 390.3,431.6 392.9,427.8 397.2,424.0 399.4,421.4 402.5,419.5 405.6,419.2 409.2,420.5 411.8,422.1 414.7,423.3 418.7,424.0 418.3,418.9 418.0,416.4 422.3,415.4 425.6,415.7 429.2,415.1 432.5,417.3 433.6,419.5 437.2,417.3 439.8,419.5 442.7,424.0 443.0,430.3 443.4,433.5 445.2,438.5 446.3,443.0 448.9,448.0 451.4,448.0 452.5,444.2 452.7,437.9 451.0,430.3 450.7,427.1 449.2,422.1 447.9,415.1 447.6,413.2 448.5,408.1 449.6,405.0 452.9,400.9 455.8,397.4 458.1,393.3 460.5,392.9 463.0,388.8 465.4,388.5 469.2,384.4 468.1,378.4 467.4,373.9 466.3,373.3 466.3,367.3 465.9,363.8 465.6,359.4 467.4,358.1 466.7,363.8 467.8,367.6 467.6,372.4 469.6,367.6 470.9,364.1 470.7,361.9 469.2,358.1 471.4,361.0 474.3,355.6 474.7,351.5 474.7,349.9 475.8,350.5 480.1,349.2 482.3,347.7 479.8,348.0 475.8,348.6 478.7,346.4 481.9,346.1 483.8,345.4 484.9,344.8 486.7,344.5 489.2,343.9 489.4,342.0 488.5,341.3 489.2,342.9 487.4,342.9 486.7,340.1 485.6,339.4 487.0,337.5 486.3,336.1 487.0,333.4 488.5,331.2 491.0,329.6 493.6,327.1 495.8,327.1 498.7,325.2 500.1,323.9 500.1,321.7 503.8,321.1 507.4,318.8 508.5,317.9 507.8,320.7 504.5,325.2 503.0,329.6 505.2,332.5 509.2,328.3 512.8,325.2 518.3,322.6 521.9,321.1 525.6,318.2 526.3,315.7 524.1,310.0 521.9,312.5 520.1,318.2 516.5,318.5 512.8,317.3 510.3,315.7 508.8,314.4 507.8,310.0 507.4,304.9 504.5,304.3 502.3,303.3 507.4,303.0 509.9,300.5 510.3,298.3 505.6,295.7 500.8,297.3 496.5,300.2 491.0,304.9 487.4,310.0 484.9,311.2 488.5,306.2 490.3,302.7 494.3,297.3 499.0,294.8 502.3,289.7 511.0,289.1 518.3,289.4 525.6,289.1 531.0,284.6 536.1,282.1 541.2,277.7 540.8,272.0 536.1,265.6 532.8,260.6 527.4,257.4 523.8,253.0 519.4,246.6 516.5,238.4 512.8,232.1 509.2,225.7 506.3,230.8 503.8,235.2 498.3,238.4 495.0,237.8 491.0,235.2 490.3,230.2 490.7,221.9 485.6,220.0 481.9,216.9 475.8,212.4 469.2,213.1 461.9,211.8 459.8,213.1 461.9,218.1 460.9,222.6 462.7,227.6 460.1,235.9 464.5,242.2 465.6,249.8 461.9,256.1 456.5,261.2 454.3,265.6 456.5,272.0 457.6,278.3 456.5,281.5 453.6,283.7 450.7,282.7 449.2,277.0 444.9,272.6 444.5,265.6 444.5,258.7 434.7,257.4 427.4,253.6 420.3,247.6 412.9,244.7 407.4,246.6 406.3,240.3 400.9,235.6 399.0,227.6 401.9,220.1 407.3,211.8 407.3,211.2 413.7,207.6 416.5,202.1 422.8,199.3 427.4,196.6 427.8,191.1 432.0,188.4 440.2,186.6 447.4,184.8 449.3,181.1 445.6,179.3 445.4,178.0 447.2,174.2 448.3,170.7 445.4,168.3 440.7,166.0 434.2,165.4 433.6,170.7 431.3,178.0 432.0,180.2 428.3,182.0 423.8,180.2 425.4,178.0 424.8,171.9 421.2,170.1 418.9,172.4 414.8,169.5 408.9,166.0 412.4,163.6 410.1,160.1 405.3,155.4 401.8,151.2 403.0,147.7 407.7,145.9 412.4,144.2 416.5,140.1 408.9,137.5 401.8,138.3 397.1,141.2 398.3,147.1 397.7,153.0 394.7,156.5 393.0,161.3 396.5,166.0 400.0,169.5 402.4,168.3 401.8,173.0 399.5,178.0 397.3,178.4 392.8,180.2 390.9,174.7 393.7,172.0 388.2,165.6 390.0,165.6 384.0,170.2 386.7,172.9 385.8,178.4 379.4,179.3 374.0,176.6 366.7,172.0 358.5,168.4 352.1,172.0 348.4,174.4 341.1,173.8 333.9,174.7 331.1,178.4 326.6,177.5 329.3,174.7 324.7,172.0 319.3,170.2 312.0,169.3 304.7,167.4 297.8,166.0 293.8,168.4 291.0,164.7 288.3,167.4 283.7,162.9 278.3,160.2 274.6,164.7 271.9,162.9 264.6,164.7 257.3,167.4 250.0,168.4 247.5,172.5 240.0,168.8 232.0,166.2"/>
<polyline points="291.9,138.3 302.9,135.5 313.8,137.4 322.9,142.8 325.7,144.7 317.4,146.5 312.0,149.2 308.3,154.7 298.3,157.4 294.7,154.7 289.2,151.0 293.8,144.7 291.9,138.3"/>
<polyline points="312.9,151.0 317.4,147.4 326.6,145.6 333.9,146.5 343.0,144.7 352.1,145.6 355.7,141.9 362.1,140.5 365.8,142.8 361.2,147.4 362.1,152.9 366.7,158.3 377.6,162.0 378.5,164.7 374.0,168.4 366.7,170.2 359.4,167.4 352.1,170.2 344.8,172.0 335.7,173.8 330.2,171.1 325.7,170.2 320.2,167.4 319.3,162.9 326.6,162.0 333.9,161.1 330.2,159.2 322.9,159.2 316.5,157.4 312.9,151.0"/>
<polyline points="292.8,124.6 301.0,120.1 310.2,117.3 322.0,117.3 319.3,121.9 313.8,126.4 310.2,129.2 304.7,127.3 298.3,126.4 292.8,124.6"/>
<polyline points="330.2,111.8 339.3,110.0 348.4,111.8 344.8,115.5 335.7,116.4 330.2,111.8"/>
<polyline points="316.5,129.2 321.1,124.6 330.2,123.7 337.5,127.3 343.0,129.2 342.1,123.7 347.5,121.9 352.1,125.5 359.4,127.3 358.5,131.9 350.3,132.8 343.0,131.0 337.5,133.7 330.2,134.6 322.9,131.9 316.5,129.2"/>
<polyline points="363.0,122.8 370.3,121.9 377.6,121.0 385.8,122.8 387.6,128.3 384.9,131.9 377.6,131.9 371.2,130.1 366.7,127.3 363.0,122.8"/>
<polyline points="357.6,106.4 366.7,105.5 377.6,107.3 384.9,112.8 377.6,114.6 368.5,110.9 361.2,109.1 357.6,106.4"/>
<polyline points="432.0,189.3 434.7,191.1 442.0,196.6 449.3,202.1 452.0,205.7 443.8,203.9 436.5,207.6 432.0,206.6 427.4,203.9 430.1,196.6 432.0,189.3"/>
<polyline points="418.8,148.8 420.0,145.0 427.5,141.2 440.0,140.0 452.5,140.5 463.8,141.2 466.2,145.0 475.0,148.8 476.2,152.5 483.8,155.0 491.2,158.8 498.8,163.8 501.2,168.8 496.2,170.5 497.5,174.5 507.5,177.5 515.0,181.2 521.2,185.0 516.2,191.2 512.5,193.8 507.5,188.8 502.5,187.5 500.0,191.2 503.8,196.2 508.8,200.0 510.0,206.2 507.5,210.0 503.8,215.0 497.5,213.8 490.0,210.0 482.5,205.0 472.5,201.2 462.5,198.8 460.0,196.2 458.8,193.8 462.5,191.2 470.0,191.2 476.2,185.0 480.0,178.8 478.8,173.8 473.8,170.0 468.8,167.5 465.0,163.8 460.0,162.5 457.5,165.0 452.5,166.2 443.8,164.5 435.0,165.5 430.0,162.5 423.8,158.8 419.5,153.8 418.8,148.8"/>
<polyline points="541.9,280.2 542.8,286.6 543.8,293.0 548.3,294.8 550.1,299.3 552.9,304.8 552.0,311.2 548.3,312.1 546.5,309.4 543.8,311.2 539.2,309.4 534.6,306.6 529.2,304.8 528.3,303.0 531.9,298.4 534.6,293.0 538.3,285.7 541.9,280.2"/>
<polyline points="180.0,244.2 188.3,237.5 190.8,240.0 183.3,248.3 180.0,244.2"/>
<polyline points="134.7,227.0 138.3,225.3 142.5,226.7 139.2,228.7 134.7,227.0"/>
<polyline points="119.3,204.5 123.0,203.9 129.9,206.6 127.3,207.6 122.5,206.1 119.3,204.5"/>
<polyline points="387.1,107.7 391.8,108.2 397.7,111.8 397.1,113.0 391.2,114.1 386.5,113.5 387.1,107.7"/>
<polyline points="391.2,114.7 399.5,114.1 407.7,114.7 408.3,117.1 403.0,117.7 397.1,117.1 391.2,114.7"/>
<polyline points="394.1,131.8 397.7,129.5 403.0,130.0 404.2,133.6 399.5,134.2 394.1,131.8"/>
<polyline points="371.2,144.8 375.3,140.6 381.8,139.5 387.7,138.3 391.8,140.6 388.8,143.0 392.4,145.9 394.7,149.5 393.6,152.4 388.8,153.6 384.1,155.4 379.4,152.4 373.5,150.1 371.2,144.8"/>
<polyline points="394.7,120.0 399.5,120.6 405.3,122.4 410.1,125.3 410.6,128.3 409.5,132.4 412.4,134.8 419.5,135.3 428.9,134.2 436.0,133.6 438.3,134.8 445.4,133.6 452.5,133.0 454.8,130.6 452.5,129.5 445.4,128.3 438.3,127.7 432.4,128.3 426.5,127.7 421.8,127.7 417.1,125.9 413.6,124.1 408.9,121.8 404.2,121.2 399.5,120.0 394.7,120.0"/>
<polyline points="418.3,123.0 421.8,119.4 425.4,117.7 424.8,114.7 428.9,113.0 431.3,109.4 435.4,107.1 436.0,104.7 473.0,104.7 471.8,108.2 470.0,111.8 465.3,113.5 461.2,114.7 460.0,117.7 457.1,118.8 461.2,121.2 458.8,123.0 451.8,124.1 444.7,124.7 440.0,123.6 436.0,125.3 426.5,125.3 420.7,124.7 418.3,123.0"/>
<polyline points="448.2,141.8 450.6,141.2 464.7,141.2 466.5,143.8 465.3,146.5 461.2,145.4 455.3,146.5 451.2,147.1 450.0,150.1 448.2,145.4 448.2,141.8"/>
<polyline points="403.0,104.7 403.6,107.7 407.7,110.0 417.1,111.8 421.8,111.2 427.7,108.8 433.6,105.9 436.0,104.7 403.0,104.7"/>
<polyline points="289.2,188.4 297.4,185.7 304.7,182.9 312.0,182.9 308.3,185.7 315.6,187.5 312.0,191.1 306.5,196.6 302.9,193.9 297.4,195.7 295.6,193.0 301.0,189.3 293.8,189.3 289.2,188.4"/>
<polyline points="318.8,220.8 325.0,217.5 327.5,212.5 333.8,213.8 340.0,210.0 347.5,210.0 342.5,213.8 336.2,216.2 331.2,220.0 325.0,222.5 318.8,220.8"/>
<polyline points="340.0,236.2 345.0,229.5 353.8,232.0 346.2,235.0 340.0,236.2"/>
<polyline points="369.5,249.5 372.5,240.0 374.5,241.2 372.5,250.0 369.5,249.5"/>
<polyline points="463.8,178.8 467.5,175.0 472.0,176.2 471.2,180.5 466.2,182.5 463.8,178.8"/>
<polyline points="376.1,271.5 379.5,271.0 382.4,273.8 384.2,281.7 387.1,288.7 385.0,289.8 382.4,283.2 380.3,277.3 378.0,274.1 376.1,271.5"/>
<polyline points="383.9,267.9 389.0,267.5 391.3,275.4 394.5,283.2 392.9,288.3 390.5,282.0 387.4,277.3 384.6,272.6 383.9,267.9"/>
<polyline points="492.5,203.8 500.0,205.0 507.5,210.0 500.0,210.0 492.5,203.8"/>
<polyline points="658.2,191.4 658.7,188.7 661.4,187.3 664.6,187.8 666.4,189.1 666.9,193.2 669.2,192.3 671.4,190.1 674.6,189.6 677.4,188.2 680.1,189.1 682.8,188.2 685.6,186.4 687.4,187.8 689.7,187.3 692.9,187.3 692.9,199.2 687.4,201.4 682.8,203.7 679.2,204.6 676.5,206.5 674.2,206.5 671.0,205.1 668.3,204.2 665.5,203.7 661.9,203.3 663.7,201.4 665.1,200.1 663.2,198.3 661.4,197.3 658.2,197.3 660.5,196.0 662.8,194.6 664.2,193.2 661.9,192.8 659.1,192.8 656.9,191.9 658.2,191.4"/>
<polyline points="435.0,468.9 438.3,463.9 441.9,462.0 445.6,460.7 451.0,461.3 455.4,465.8 460.9,470.2 465.6,473.4 468.9,476.5 473.9,479.7 471.0,481.6 461.2,481.9 463.0,477.2 459.4,476.2 457.9,471.5 451.8,469.6 446.3,467.0 444.9,464.5 440.1,467.0 438.3,468.9 435.0,468.9"/>
<polyline points="458.7,491.7 461.9,490.5 466.3,492.7 466.3,494.3 463.0,495.2 459.8,493.0 458.7,491.7"/>
<polyline points="473.0,491.4 478.3,490.8 480.5,490.2 479.0,487.3 476.9,482.6 479.0,481.6 483.0,482.2 486.3,481.9 489.6,483.2 492.1,486.7 495.2,489.8 493.6,492.4 489.2,491.1 487.0,492.1 484.1,495.9 482.3,492.4 479.0,492.7 475.4,493.3 473.0,491.4"/>
<polyline points="499.4,490.8 503.8,490.8 505.0,492.4 503.8,493.8 499.4,493.8 499.4,490.8"/>
<polyline points="483.4,539.2 481.9,545.6 483.4,550.0 485.6,547.5 485.2,541.8 483.4,539.2 483.4,539.2"/>
<polyline points="506.5,105.5 491.9,108.2 480.9,110.9 478.2,112.8 484.6,114.6 490.1,116.4 487.3,119.1 492.8,121.0 491.9,123.7 499.2,125.5 506.5,126.4 519.2,126.4 526.5,127.3 532.9,130.1 537.4,133.7 540.2,138.3 541.1,143.8 542.9,148.3 542.0,152.0 543.8,154.7 549.3,153.8 552.0,156.5 557.5,160.2 558.4,162.9 553.9,162.0 548.4,159.2 545.7,162.9 547.5,166.5 552.9,167.4 558.4,165.6 559.3,172.9 552.0,174.7 549.3,178.4 548.4,185.7 551.1,191.1 554.8,194.8 557.5,202.1 561.1,207.6 564.8,214.8 566.6,219.9"/>
<polyline points="554.7,200.0 560.2,207.3 564.7,216.4 569.3,221.9 578.4,224.6 583.9,228.3 588.4,225.5 590.2,217.3 591.1,210.9 594.8,207.3 598.4,201.8"/>
<polyline points="591.2,210.0 593.8,205.0 598.0,200.0 596.2,196.2 600.0,193.0 607.5,191.2 615.0,188.8 622.5,185.0 626.2,180.0 631.2,176.2 636.2,174.5 641.2,174.5"/>
<polyline points="641.2,174.5 650.0,171.2 653.8,169.2 662.3,163.4 657.0,162.4 654.9,159.2 652.8,156.0 651.2,157.6 651.7,161.3 648.5,163.4 648.0,161.3 650.6,160.2 651.7,156.5 653.8,155.0 656.5,157.1 658.0,160.2 661.2,161.3 665.4,161.3 665.7,156.0 663.3,152.8 660.2,150.7 655.9,148.6 659.1,149.7 662.3,150.7 665.4,149.7 665.4,146.5 662.3,144.9 664.4,143.3 667.6,141.2 670.7,142.3 670.2,139.6 672.8,138.0 675.5,137.0 675.0,134.9 672.8,133.8 676.0,133.8 677.1,131.7 679.7,132.2 676.5,130.6 674.4,131.2 675.0,128.5 672.8,126.4 669.7,124.8 666.5,123.8 667.0,121.7 670.7,120.6 675.0,121.1 678.1,120.6 677.6,117.4 675.0,115.3 673.4,112.7 673.9,109.5 675.5,106.9 677.6,105.8 677.6,104.4"/>
<polyline points="462.3,556.3 462.7,553.2 464.5,555.7 467.4,548.7 469.2,540.5 471.8,537.3 474.7,536.1 478.3,534.8 481.2,531.6 484.5,528.8 484.5,532.9 482.3,536.7 483.4,539.2 485.6,538.0 488.5,534.8 489.2,530.4 489.9,534.8 493.6,535.4 495.8,538.6 496.5,541.1 503.0,540.5 507.4,543.7 510.3,541.1 515.4,539.9 518.7,539.9 516.5,543.0 521.9,547.5 522.7,553.8 523.8,556.3"/>
<polyline points="443.4,556.3 446.3,551.3 449.2,551.9 452.9,548.7 454.7,546.8 458.3,548.1 462.3,552.5 462.7,553.2"/>
<polyline points="443.4,556.3 447.4,556.3"/>
<polyline points="693.0,443.0 691.5,448.8 688.8,455.0 686.2,462.5 684.5,468.8 682.5,473.0 683.2,477.5 685.5,482.5 686.2,490.0 687.0,497.5 685.0,502.5 683.8,507.5 681.2,513.8 683.0,518.8 685.0,522.5 683.8,526.2 683.8,530.0 687.5,533.8 690.0,537.5 691.2,540.0 693.0,541.2"/>
<polyline points="90.3,171.2 94.5,173.8 100.9,175.4 105.1,178.6 109.3,182.3 115.6,182.3 119.9,183.3 123.0,186.5 126.7,189.1 122.0,191.8 117.8,192.8 117.2,196.5 114.1,200.8 109.3,198.7 104.6,195.5 101.9,192.3 97.7,193.4 93.5,191.8 92.4,187.6 90.3,189.7"/>
<polyline points="90.3,154.3 95.6,154.3 98.5,156.4 94.5,158.0 90.3,158.5"/>
<polyline points="295.4,297.3 397.8,297.3 397.8,294.8 399.0,295.4 399.8,299.2 403.8,300.5 407.4,301.1 411.0,303.3 416.5,303.0 418.3,303.6 422.3,301.7 435.0,310.6 436.5,313.1 440.1,316.3 440.1,317.6 443.8,320.7 445.2,331.5 444.1,335.3 443.8,337.8 441.6,340.4 441.6,341.6 443.8,343.5 452.9,339.7 456.5,336.6 456.3,333.4 455.8,332.5 457.6,331.3 464.5,331.3 465.9,328.3 469.9,323.9 472.1,322.6 483.8,322.6 484.1,321.4 485.9,320.7 488.1,316.9 488.3,314.4 489.2,311.9 492.1,307.1 493.2,308.7 495.4,307.8 497.2,309.5 497.2,318.2 498.5,320.7 500.1,323.9"/>
<polyline points="318.0,401.6 326.3,401.8 339.9,409.2 350.3,409.2 350.3,406.4 356.5,406.4 362.0,413.2 363.8,420.2 368.5,424.0 371.1,419.2 375.1,419.1 379.1,428.4 382.0,433.5 383.4,440.4 390.5,443.3"/>
<polyline points="292.9,314.7 295.8,315.4 297.2,318.5 303.1,318.5 310.0,316.7 311.1,316.3 318.6,316.3"/>
<polyline points="318.2,297.3 318.2,313.8 318.6,316.3 320.2,319.5 318.9,323.3 317.6,326.4 318.3,329.0 318.2,341.6"/>
<polyline points="292.2,341.6 340.0,341.6"/>
<polyline points="321.8,297.3 321.8,303.6 323.1,306.8 326.7,311.9 328.0,312.2 327.8,316.9 327.4,319.2 329.6,318.8 331.2,323.3 332.9,325.8 335.4,325.5 338.3,325.2 340.0,325.8"/>
<polyline points="340.0,322.6 340.0,348.0"/>
<polyline points="340.0,322.6 365.4,322.6"/>
<polyline points="365.4,297.3 365.4,348.0"/>
<polyline points="340.0,348.0 372.7,348.0"/>
<polyline points="329.1,341.6 329.1,378.4 326.7,379.0 327.1,385.3 327.1,386.6 328.9,390.4 327.8,392.3 326.7,396.1 327.4,400.2 326.3,401.8"/>
<polyline points="347.2,348.0 347.2,409.2"/>
<polyline points="329.1,373.3 399.7,373.3"/>
<polyline points="307.4,341.6 307.4,360.6 327.0,386.0"/>
<polyline points="372.7,348.0 372.7,373.3"/>
<polyline points="372.7,354.3 397.2,354.3"/>
<polyline points="369.1,373.3 369.1,405.0 356.1,405.0 356.5,406.4"/>
<polyline points="369.2,376.5 380.1,376.5 380.1,388.8 383.1,391.0 387.1,391.7 390.3,393.6 392.9,393.6 396.5,392.9 400.2,394.6 401.8,395.2 401.8,405.0 403.8,411.3 403.0,415.7 402.5,419.5"/>
<polyline points="399.7,376.5 400.4,383.4 400.2,394.6"/>
<polyline points="399.7,373.3 399.7,360.0 398.3,355.6 397.2,354.3"/>
<polyline points="399.7,376.5 416.0,376.5 415.2,379.6 417.6,379.6"/>
<polyline points="401.8,398.6 412.1,398.6"/>
<polyline points="419.8,373.3 418.3,376.5 417.6,379.6 416.1,385.3 414.3,389.1 412.5,394.2 412.1,398.6 412.9,403.1 410.7,409.4 410.7,411.3 417.5,411.3 417.2,413.8 418.0,416.4"/>
<polyline points="419.8,373.3 418.3,371.4 415.8,364.4 415.8,361.9 414.0,360.6 411.4,354.9 411.4,351.8 412.5,349.9 413.2,346.1 415.4,343.5 415.8,341.0 414.1,338.5 412.5,335.3 412.1,332.1 411.8,329.6 409.2,326.4 406.3,324.2 406.5,319.5 406.0,318.2 408.1,315.7 408.1,312.1 408.9,311.6"/>
<polyline points="393.0,332.1 412.1,332.1"/>
<polyline points="395.5,350.5 410.2,350.5 411.4,351.8"/>
<polyline points="365.4,316.7 392.6,316.7"/>
<polyline points="365.4,335.3 385.6,335.3 385.6,335.9 387.8,336.6 390.3,336.3 392.9,338.5 394.0,341.6 394.3,344.8 395.0,346.7 395.4,350.5 397.2,354.3"/>
<polyline points="390.3,297.3 390.7,303.6 391.8,310.0 392.5,314.4 392.6,316.7 391.6,318.8 393.0,320.7 393.0,332.1 392.5,334.7 392.9,338.5"/>
<polyline points="414.1,338.5 424.5,338.5"/>
<polyline points="415.0,312.8 419.8,315.7 423.4,316.9 424.5,320.4 425.2,322.0"/>
<polyline points="425.5,343.2 425.5,358.4 425.2,361.9 424.0,365.7 423.6,368.2"/>
<polyline points="419.8,373.3 422.0,372.7 423.6,368.2 427.0,368.2 429.2,367.0 431.4,365.7 433.2,362.5 435.4,360.0 437.2,361.3 439.4,362.9 443.4,364.4 444.9,361.9 446.5,359.4 449.6,356.2 451.0,350.2 451.0,339.7"/>
<polyline points="435.3,360.0 435.3,343.2"/>
<polyline points="425.5,343.2 435.3,343.2 440.3,343.3"/>
<polyline points="453.7,339.9 453.7,341.6 469.8,341.6 472.1,345.8 470.7,348.6 470.3,350.5 471.9,353.0 470.7,354.9 469.6,355.6"/>
<polyline points="451.0,356.1 468.2,356.1 468.2,364.1 470.9,364.1"/>
<polyline points="472.1,345.8 475.0,348.0"/>
<polyline points="418.3,376.5 423.6,376.5 423.6,375.5 439.5,375.8 467.8,376.2"/>
<polyline points="415.4,386.0 441.6,386.0"/>
<polyline points="446.7,375.8 445.6,379.0 443.4,379.6 441.6,380.9 440.1,382.4 438.3,383.4 437.2,386.0"/>
<polyline points="423.0,386.0 422.1,405.6 422.3,416.4"/>
<polyline points="432.5,386.0 434.0,399.3 434.7,403.1 434.3,408.1 434.7,411.3"/>
<polyline points="426.0,415.1 425.2,411.3 434.7,411.3 435.2,413.2 444.9,414.0 445.4,415.4 445.6,412.9 447.6,413.2"/>
<polyline points="441.6,386.0 440.7,387.9 442.9,390.7 445.6,395.5 447.4,398.6 448.9,404.3 449.6,405.0"/>
<polyline points="441.6,386.0 444.5,384.7 449.0,385.0 449.6,387.2 453.9,387.2 458.1,393.3"/>
<polyline points="443.4,364.4 445.6,369.8 445.7,369.9"/>
<polyline points="439.5,375.8 443.0,372.0 445.7,369.9 448.5,371.7 451.8,370.1 452.9,367.0 454.1,363.5 455.8,363.8 456.9,361.9 458.9,358.4 461.1,358.6"/>
<polyline points="454.7,356.1 454.7,359.4 457.2,356.8 459.4,356.5 461.1,358.6 463.4,361.3 462.7,364.4 466.3,367.3"/>
<polyline points="477.0,322.6 476.9,329.0 477.4,331.5 477.3,336.9 476.5,341.3 476.5,346.4 475.9,348.0"/>
<polyline points="483.8,322.6 483.4,325.8 481.8,328.3 480.9,332.1 480.3,337.0"/>
<polyline points="477.3,337.0 484.5,337.0 486.3,336.1"/>
<polyline points="476.5,341.4 482.7,341.4 484.2,341.5 484.2,342.3 485.2,344.8"/>
<polyline points="482.7,341.6 482.7,345.8"/>
<polyline points="485.3,320.7 485.6,329.0 485.7,333.1 486.7,334.9"/>
<polyline points="232.0,166.3 232.0,228.5"/>
<polyline points="231.4,229.1 238.4,227.5 250.2,228.3 256.4,235.3 260.3,241.6 265.0,248.6 271.2,252.5 269.7,260.3 270.5,264.2"/>
<polyline points="408.5,515.8 408.7,512.0 410.3,506.0 415.0,505.7 414.9,503.8 411.4,498.7 412.9,498.4 412.9,494.8 419.6,494.8 419.6,506.9 420.5,506.9"/>
<polyline points="419.6,494.8 422.7,490.5"/>
<polyline points="419.6,506.9 419.4,512.6 418.9,516.4 416.1,520.6"/>
<polyline points="418.9,516.4 422.0,519.3 424.9,520.2 424.5,522.8"/>
<polyline points="426.3,525.3 428.5,520.2 431.8,519.9 434.7,514.5 441.2,513.0"/>
<polyline points="432.1,537.3 435.8,537.7 439.6,538.6"/>
<polyline points="442.1,555.1 442.3,550.0 443.6,547.1"/>
<polyline points="462.7,553.2 461.9,557.6"/>
<polyline points="484.5,532.6 480.9,537.3 478.3,545.6 480.1,554.4 480.9,557.0"/>
<polyline points="682.5,473.0 687.5,472.5 693.0,472.5"/>
<polyline points="685.0,502.5 690.0,502.0 693.0,501.2"/>
<polyline points="685.0,522.5 687.5,521.2 690.0,520.8 693.0,522.5"/>
<polyline points="683.8,526.2 687.5,527.5 693.0,527.0"/>
<polyline points="683.8,530.0 688.8,528.8 693.0,530.0"/>
<polyline points="687.5,533.8 690.0,531.2 693.0,532.5"/>
<polyline points="95.0,278.8 97.0,280.5"/>
<polyline points="100.0,279.5 102.5,280.5"/>
<polyline points="108.8,277.5 111.2,275.5"/>
<polyline points="128.0,273.8 131.2,269.5 134.5,267.5"/>
<polyline points="135.0,266.2 138.8,265.5 138.2,268.8 135.0,269.5 135.0,266.2"/>
<polyline points="161.0,469.5 163.0,466.5 165.0,467.0 164.0,469.0 161.0,469.5"/>
<polyline points="168.0,470.5 170.0,470.0 171.0,472.0 169.0,473.0 168.0,470.5"/>
<polyline points="172.0,473.5 175.0,474.0"/>
<polyline points="174.5,475.0 176.5,475.0 177.0,477.5 175.0,478.0 174.5,475.0"/>
<polyline points="176.5,479.0 181.5,484.5 177.0,487.5 175.5,483.5 176.5,479.0"/>
<polyline points="408.9,311.6 412.9,310.6 415.0,312.8 420.1,310.6 422.3,308.1 424.5,307.1 422.7,310.3 426.0,313.1 429.2,313.1 434.7,311.6 436.5,313.1 436.1,310.0 435.4,304.3 431.4,303.6 429.2,298.9 423.0,297.9 420.5,301.1 418.3,303.6 414.7,305.5 411.0,309.3 408.9,311.6"/>
<polyline points="425.2,343.5 424.3,338.5 424.5,332.1 425.6,326.4 424.1,325.2 423.8,325.5 426.3,321.4 428.9,317.6 432.9,316.0 435.4,317.6 433.6,320.7 432.5,323.9 430.1,324.5 429.2,330.9 430.3,335.9 428.9,341.6 427.4,343.9 425.2,343.5"/>
<polyline points="435.4,317.6 438.3,316.3 441.9,315.4 446.7,316.3 450.3,316.9 452.9,320.7 453.6,323.9 449.6,325.2 448.1,321.1 446.7,326.4 446.5,333.4 444.1,335.3 443.8,330.9 441.9,328.7 438.7,331.2 440.9,327.1 440.9,322.3 438.0,319.5 435.4,317.6"/>
<polyline points="440.5,343.5 443.0,344.8 446.7,344.8 451.0,342.0 456.5,337.2 456.9,335.9 452.1,336.9 448.1,337.8 443.8,341.6 441.6,341.6 440.5,343.5"/>
<polyline points="453.6,333.4 456.5,333.7 461.9,333.7 466.7,331.8 466.3,328.0 461.9,329.3 458.3,329.6 455.0,331.2 453.6,333.4"/>
<polyline points="434.7,140.5 430.1,145.2 428.9,150.1 432.9,153.2"/>
<polyline points="440.2,140.5 435.6,143.8 433.8,147.8"/>
<polyline points="458.4,141.0 460.2,145.6 462.9,147.8"/>
<polyline points="508.8,291.9 513.9,292.6 519.0,296.0 516.1,296.7 511.8,295.1 508.8,291.9"/>
<polyline points="683.5,427.5 685.0,430.0"/>
<polyline points="687.5,429.0 688.8,430.8"/>
<polyline points="640.0,363.0 642.0,364.5"/>
<polyline points="650.0,368.2 654.5,368.2"/>
<polyline points="457.5,437.5 461.2,439.5 463.0,437.5"/>
<polyline points="464.5,446.2 468.0,448.8 470.5,453.8"/>
<polyline points="471.2,458.8 475.0,464.5"/>
<polyline points="476.2,465.5 480.5,468.8 484.5,468.0"/>
<polyline points="476.2,473.8 478.8,472.5 478.0,475.5 476.2,473.8"/>
<polyline points="457.5,448.8 462.5,447.5 463.8,453.8 460.0,456.2"/>
<polyline points="519.5,503.8 521.0,503.0 521.5,506.0 519.8,506.2 519.5,503.8"/>
<polyline points="522.5,513.0 523.5,515.0"/>
<polyline points="518.8,540.5 522.5,540.0 522.0,544.5 519.0,544.0 518.8,540.5"/>
<polyline points="453.8,250.0 457.5,253.0"/>
<polyline points="457.0,249.5 454.5,253.5"/>
<polyline points="455.5,249.0 456.0,254.0"/>
<polyline points="441.2,212.0 445.5,210.0 447.5,211.2 443.8,213.8 441.2,212.0"/>
<polyline points="453.0,213.0 455.5,212.0 456.5,215.5 454.0,217.5 453.0,213.0"/>
<polyline points="248.6,235.3 251.7,230.6 255.6,236.9 259.5,242.3 257.2,246.2 254.1,241.6 250.9,244.7 248.6,240.0 248.6,235.3"/>
<polyline points="258.8,247.8 261.9,252.5 265.0,257.2 263.4,260.3 261.1,255.6 258.0,252.5 258.8,247.8"/>
<polyline points="252.5,238.4 254.8,243.9 256.4,248.6"/>
<polyline points="266.6,261.9 268.9,266.6 271.2,269.7"/>
<polyline points="276.7,284.5 283.8,288.4 293.1,296.2 297.0,301.7 293.1,302.5 288.4,297.8 282.2,291.6 276.7,286.1 276.7,284.5"/>
<polyline points="261.1,265.0 264.2,265.8 265.8,272.8 267.3,277.5 265.0,276.7 262.7,269.7 261.1,265.0"/>
</g>
</g>
<g shape-rendering="crispEdges" stroke="#000" stroke-width="1" fill="none">
<rect x="90.5" y="104.5" width="602" height="452"/>
<path d="M162.5 95V104M162.5 557V567"/>
<path d="M235.5 95V104M235.5 557V567"/>
<path d="M307.5 95V104M307.5 557V567"/>
<path d="M380.5 95V104M380.5 557V567"/>
<path d="M453.5 95V104M453.5 557V567"/>
<path d="M526.5 95V104M526.5 557V567"/>
<path d="M598.5 95V104M598.5 557V567"/>
<path d="M671.5 95V104M671.5 557V567"/>
<path d="M80 164.5H90M693 164.5H703"/>
<path d="M80 227.5H90M693 227.5H703"/>
<path d="M80 290.5H90M693 290.5H703"/>
<path d="M80 354.5H90M693 354.5H703"/>
<path d="M80 417.5H90M693 417.5H703"/>
<path d="M80 480.5H90M693 480.5H703"/>
<path d="M80 544.5H90M693 544.5H703"/>
</g>
<g shape-rendering="crispEdges" stroke="#000" stroke-width="1">
<rect x="711.5" y="104.5" width="20" height="32" fill="#cccc4d"/>
<rect x="711.5" y="136.5" width="20" height="33" fill="#ff8000"/>
<rect x="711.5" y="169.5" width="20" height="32" fill="#b31a1a"/>
<rect x="711.5" y="201.5" width="20" height="32" fill="#ff0000"/>
<rect x="711.5" y="233.5" width="20" height="32" fill="#ff8080"/>
<rect x="711.5" y="265.5" width="20" height="33" fill="#ffcccc"/>
<rect x="711.5" y="298.5" width="20" height="32" fill="#fff0d9"/>
<rect x="711.5" y="330.5" width="20" height="32" fill="#ccccff"/>
<rect x="711.5" y="362.5" width="20" height="33" fill="#8080ff"/>
<rect x="711.5" y="395.5" width="20" height="32" fill="#0000ff"/>
<rect x="711.5" y="427.5" width="20" height="32" fill="#000099"/>
<rect x="711.5" y="459.5" width="20" height="32" fill="#9900e6"/>
<rect x="711.5" y="491.5" width="20" height="33" fill="#cc66cc"/>
<rect x="711.5" y="524.5" width="20" height="32" fill="#ff00ff"/>
</g>
<g font-family="Liberation Sans, sans-serif" font-size="14" fill="#000" letter-spacing="0.72">
<text x="742.7" y="110">375</text>
<text x="742.7" y="142">325</text>
<text x="742.7" y="175">275</text>
<text x="742.7" y="207">225</text>
<text x="742.7" y="239">175</text>
<text x="742.7" y="271">125</text>
<text x="751.2" y="304">75</text>
<text x="751.2" y="336">25</text>
<text transform="translate(744.1,368) scale(1.38,1)" letter-spacing="0">−</text>
<text x="755.5" y="368">25</text>
<text transform="translate(744.1,401) scale(1.38,1)" letter-spacing="0">−</text>
<text x="755.5" y="401">75</text>
<text transform="translate(735.5,433) scale(1.38,1)" letter-spacing="0">−</text>
<text x="746.9" y="433">125</text>
<text transform="translate(735.5,465) scale(1.38,1)" letter-spacing="0">−</text>
<text x="746.9" y="465">225</text>
<text transform="translate(735.5,497) scale(1.38,1)" letter-spacing="0">−</text>
<text x="746.9" y="497">275</text>
<text transform="translate(735.5,530) scale(1.38,1)" letter-spacing="0">−</text>
<text x="746.9" y="530">325</text>
<text transform="translate(735.5,562) scale(1.38,1)" letter-spacing="0">−</text>
<text x="746.9" y="562">375</text>
</g>
<g font-family="Liberation Sans, sans-serif" font-size="13.4" fill="#000">
<text x="163.0" y="581.6" text-anchor="middle">−160</text>
<text x="308.4" y="581.6" text-anchor="middle">−120</text>
<text x="453.9" y="581.6" text-anchor="middle">−80</text>
<text x="599.3" y="581.6" text-anchor="middle">−40</text>
<text x="75.6" y="168.9" text-anchor="end">70</text>
<text x="75.6" y="295.6" text-anchor="end">50</text>
<text x="75.6" y="422.2" text-anchor="end">30</text>
<text x="75.6" y="548.9" text-anchor="end">10</text>
</g>
<g font-family="Liberation Sans, sans-serif" font-size="14" fill="#000">
<text x="391.7" y="599" text-anchor="middle" letter-spacing="0.1">LON2</text>
<text transform="translate(53,331) rotate(-90)" text-anchor="middle" letter-spacing="0.1">LAT2</text>
<text x="90" y="60" letter-spacing="0.55" word-spacing="2.6">T : 0.5 to 30.5</text>
</g>
<g font-family="Liberation Sans, sans-serif" font-size="8.4" fill="#000">
<text x="662.6" y="15.2" textLength="60" lengthAdjust="spacingAndGlyphs">FERRET Ver. 5.70</text>
<text x="662.6" y="23.2" textLength="59.6" lengthAdjust="spacingAndGlyphs">NOAA/PMEL TMAP</text>
<text x="653.6" y="30.2" textLength="77.6" lengthAdjust="spacingAndGlyphs" xml:space="preserve">Dec  7 2004 07:42:25</text>
</g>
<g font-family="Liberation Serif, serif" font-size="9.8" font-weight="bold" fill="#000">
<text x="110.0" y="613.4" textLength="133.0" lengthAdjust="spacingAndGlyphs">('TOTAL_PRECIPITATION_RATE'</text>
<text x="243.6" y="613.4" textLength="96.0" lengthAdjust="spacingAndGlyphs">[L=1:30@SUM]*86400)</text>
<text x="340.0" y="613.4" textLength="42.6" lengthAdjust="spacingAndGlyphs">−PCPNEW</text>
<text x="383.0" y="613.4" textLength="155.4" lengthAdjust="spacingAndGlyphs">[D=exp0.0.cru.hadrm3p.pcp,L=11]</text>
<text x="538.8" y="613.4" textLength="134.2" lengthAdjust="spacingAndGlyphs">[D=abaala.pah2nov.06216.pp]</text>
</g>
</svg>
</body></html>
